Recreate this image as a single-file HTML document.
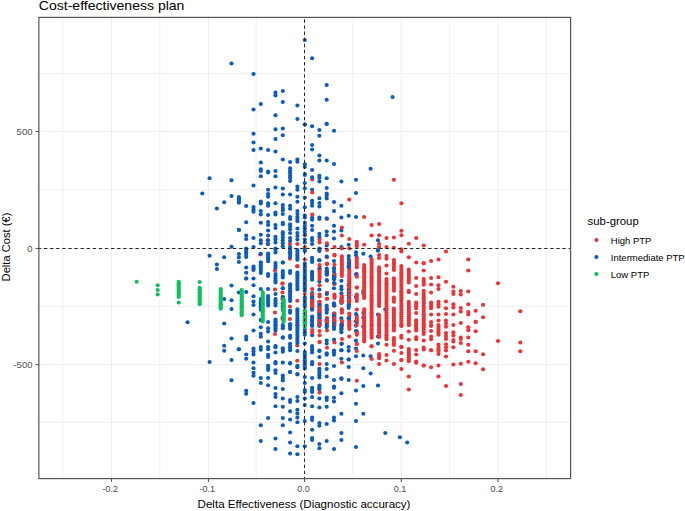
<!DOCTYPE html>
<html><head><meta charset="utf-8"><title>Cost-effectiveness plan</title>
<style>
html,body{margin:0;padding:0;background:#fff;}
body{width:685px;height:511px;overflow:hidden;font-family:"Liberation Sans",Arial,sans-serif;}
svg{display:block}
text{font-family:"Liberation Sans",Arial,sans-serif;}
</style></head><body>
<svg width="685" height="511" viewBox="0 0 685 511">
<rect width="685" height="511" fill="#fff"/>

<g><line x1="63.00" x2="63.00" y1="17.4" y2="478.6" stroke="#ececec" stroke-width="0.85"/>
<line x1="159.80" x2="159.80" y1="17.4" y2="478.6" stroke="#ececec" stroke-width="0.85"/>
<line x1="256.20" x2="256.20" y1="17.4" y2="478.6" stroke="#ececec" stroke-width="0.85"/>
<line x1="352.90" x2="352.90" y1="17.4" y2="478.6" stroke="#ececec" stroke-width="0.85"/>
<line x1="449.70" x2="449.70" y1="17.4" y2="478.6" stroke="#ececec" stroke-width="0.85"/>
<line x1="546.40" x2="546.40" y1="17.4" y2="478.6" stroke="#ececec" stroke-width="0.85"/>
<line x1="111.50" x2="111.50" y1="17.4" y2="478.6" stroke="#ececec" stroke-width="0.95"/>
<line x1="208.50" x2="208.50" y1="17.4" y2="478.6" stroke="#ececec" stroke-width="0.95"/>
<line x1="304.60" x2="304.60" y1="17.4" y2="478.6" stroke="#ececec" stroke-width="0.95"/>
<line x1="401.30" x2="401.30" y1="17.4" y2="478.6" stroke="#ececec" stroke-width="0.95"/>
<line x1="498.00" x2="498.00" y1="17.4" y2="478.6" stroke="#ececec" stroke-width="0.95"/>
<line y1="422.40" y2="422.40" x1="38.85" x2="570.6" stroke="#ececec" stroke-width="0.85"/>
<line y1="306.50" y2="306.50" x1="38.85" x2="570.6" stroke="#ececec" stroke-width="0.85"/>
<line y1="190.00" y2="190.00" x1="38.85" x2="570.6" stroke="#ececec" stroke-width="0.85"/>
<line y1="73.40" y2="73.40" x1="38.85" x2="570.6" stroke="#ececec" stroke-width="0.85"/>
<line y1="364.60" y2="364.60" x1="38.85" x2="570.6" stroke="#ececec" stroke-width="0.95"/>
<line y1="248.50" y2="248.50" x1="38.85" x2="570.6" stroke="#ececec" stroke-width="0.95"/>
<line y1="131.50" y2="131.50" x1="38.85" x2="570.6" stroke="#ececec" stroke-width="0.95"/></g>
<g fill="#0d5cbd">
<ellipse cx="392.6" cy="96.9" rx="2.08" ry="2.0"/>
<ellipse cx="370.6" cy="168.7" rx="2.08" ry="2.0"/>
<ellipse cx="363.3" cy="413.8" rx="2.08" ry="2.0"/>
<ellipse cx="385.3" cy="432.9" rx="2.08" ry="2.0"/>
<ellipse cx="399.9" cy="437.2" rx="2.08" ry="2.0"/>
<ellipse cx="407.2" cy="442.6" rx="2.08" ry="2.0"/>
<ellipse cx="378.0" cy="240.3" rx="2.08" ry="2.0"/>
<ellipse cx="378.0" cy="249.9" rx="2.08" ry="2.0"/>
<ellipse cx="363.3" cy="253.7" rx="2.08" ry="2.0"/>
<ellipse cx="363.3" cy="291.1" rx="2.08" ry="2.0"/>
<ellipse cx="363.3" cy="293.3" rx="2.08" ry="2.0"/>
<ellipse cx="363.3" cy="313.1" rx="2.08" ry="2.0"/>
<ellipse cx="363.3" cy="317.8" rx="2.08" ry="2.0"/>
<ellipse cx="370.6" cy="256.6" rx="2.08" ry="2.0"/>
<ellipse cx="378.0" cy="250.7" rx="2.08" ry="2.0"/>
<ellipse cx="378.0" cy="314.6" rx="2.08" ry="2.0"/>
<ellipse cx="385.3" cy="309.5" rx="2.08" ry="2.0"/>
<ellipse cx="363.3" cy="326.5" rx="2.08" ry="2.0"/>
<ellipse cx="363.3" cy="355.4" rx="2.08" ry="2.0"/>
<ellipse cx="363.3" cy="368.3" rx="2.08" ry="2.0"/>
<ellipse cx="363.3" cy="385.9" rx="2.08" ry="2.0"/>
<ellipse cx="370.6" cy="356.3" rx="2.08" ry="2.0"/>
<ellipse cx="370.6" cy="373.5" rx="2.08" ry="2.0"/>
<ellipse cx="378.0" cy="336.5" rx="2.08" ry="2.0"/>
<ellipse cx="378.0" cy="343.4" rx="2.08" ry="2.0"/>
<ellipse cx="378.0" cy="385.5" rx="2.08" ry="2.0"/>
</g>
<g fill="#ea3538">
<ellipse cx="364.2" cy="216.9" rx="2.08" ry="2.0"/>
<ellipse cx="364.2" cy="244.8" rx="2.08" ry="2.0"/>
<ellipse cx="371.6" cy="224.9" rx="2.08" ry="2.0"/>
<ellipse cx="371.6" cy="235.6" rx="2.08" ry="2.0"/>
<ellipse cx="379.1" cy="223.9" rx="2.08" ry="2.0"/>
<ellipse cx="379.1" cy="235.2" rx="2.08" ry="2.0"/>
<ellipse cx="379.1" cy="243.7" rx="2.08" ry="2.0"/>
<ellipse cx="379.1" cy="247.0" rx="2.08" ry="2.0"/>
<ellipse cx="386.5" cy="238.1" rx="2.08" ry="2.0"/>
<ellipse cx="386.5" cy="247.0" rx="2.08" ry="2.0"/>
<ellipse cx="393.9" cy="179.7" rx="2.08" ry="2.0"/>
<ellipse cx="393.9" cy="237.4" rx="2.08" ry="2.0"/>
<ellipse cx="393.9" cy="247.7" rx="2.08" ry="2.0"/>
<ellipse cx="401.4" cy="203.2" rx="2.08" ry="2.0"/>
<ellipse cx="401.4" cy="230.8" rx="2.08" ry="2.0"/>
<ellipse cx="401.4" cy="235.2" rx="2.08" ry="2.0"/>
<ellipse cx="401.4" cy="249.2" rx="2.08" ry="2.0"/>
<ellipse cx="408.8" cy="243.7" rx="2.08" ry="2.0"/>
<ellipse cx="416.2" cy="238.1" rx="2.08" ry="2.0"/>
<ellipse cx="423.7" cy="245.5" rx="2.08" ry="2.0"/>
<ellipse cx="267.6" cy="240.3" rx="2.08" ry="2.0"/>
<ellipse cx="267.6" cy="244.0" rx="2.08" ry="2.0"/>
<ellipse cx="289.9" cy="244.0" rx="2.08" ry="2.0"/>
<ellipse cx="297.3" cy="244.0" rx="2.08" ry="2.0"/>
<ellipse cx="304.8" cy="235.2" rx="2.08" ry="2.0"/>
<ellipse cx="304.8" cy="247.0" rx="2.08" ry="2.0"/>
<ellipse cx="260.2" cy="254.4" rx="2.08" ry="2.0"/>
<ellipse cx="275.0" cy="270.6" rx="2.08" ry="2.0"/>
<ellipse cx="275.0" cy="289.4" rx="2.08" ry="2.0"/>
<ellipse cx="275.0" cy="312.4" rx="2.08" ry="2.0"/>
<ellipse cx="282.5" cy="283.4" rx="2.08" ry="2.0"/>
<ellipse cx="282.5" cy="283.4" rx="2.08" ry="2.0"/>
<ellipse cx="282.5" cy="292.6" rx="2.08" ry="2.0"/>
<ellipse cx="282.5" cy="299.2" rx="2.08" ry="2.0"/>
<ellipse cx="282.5" cy="319.0" rx="2.08" ry="2.0"/>
<ellipse cx="289.9" cy="252.2" rx="2.08" ry="2.0"/>
<ellipse cx="289.9" cy="258.8" rx="2.08" ry="2.0"/>
<ellipse cx="289.9" cy="306.5" rx="2.08" ry="2.0"/>
<ellipse cx="289.9" cy="319.0" rx="2.08" ry="2.0"/>
<ellipse cx="297.3" cy="266.2" rx="2.08" ry="2.0"/>
<ellipse cx="297.3" cy="266.2" rx="2.08" ry="2.0"/>
<ellipse cx="297.3" cy="300.7" rx="2.08" ry="2.0"/>
<ellipse cx="304.8" cy="259.5" rx="2.08" ry="2.0"/>
<ellipse cx="304.8" cy="294.1" rx="2.08" ry="2.0"/>
<ellipse cx="364.2" cy="265.1" rx="2.08" ry="2.0"/>
<ellipse cx="364.2" cy="267.2" rx="2.08" ry="2.0"/>
<ellipse cx="364.2" cy="269.2" rx="2.08" ry="2.0"/>
<ellipse cx="364.2" cy="271.3" rx="2.08" ry="2.0"/>
<ellipse cx="364.2" cy="273.3" rx="2.08" ry="2.0"/>
<ellipse cx="364.2" cy="275.4" rx="2.08" ry="2.0"/>
<ellipse cx="364.2" cy="277.5" rx="2.08" ry="2.0"/>
<ellipse cx="364.2" cy="279.5" rx="2.08" ry="2.0"/>
<ellipse cx="364.2" cy="281.6" rx="2.08" ry="2.0"/>
<ellipse cx="364.2" cy="283.6" rx="2.08" ry="2.0"/>
<ellipse cx="364.2" cy="285.7" rx="2.08" ry="2.0"/>
<ellipse cx="364.2" cy="287.7" rx="2.08" ry="2.0"/>
<ellipse cx="364.2" cy="289.8" rx="2.08" ry="2.0"/>
<ellipse cx="364.2" cy="291.9" rx="2.08" ry="2.0"/>
<ellipse cx="364.2" cy="293.9" rx="2.08" ry="2.0"/>
<ellipse cx="364.2" cy="296.0" rx="2.08" ry="2.0"/>
<ellipse cx="364.2" cy="298.0" rx="2.08" ry="2.0"/>
<ellipse cx="364.2" cy="309.2" rx="2.08" ry="2.0"/>
<ellipse cx="364.2" cy="311.4" rx="2.08" ry="2.0"/>
<ellipse cx="364.2" cy="313.7" rx="2.08" ry="2.0"/>
<ellipse cx="364.2" cy="315.9" rx="2.08" ry="2.0"/>
<ellipse cx="364.2" cy="318.2" rx="2.08" ry="2.0"/>
<ellipse cx="364.2" cy="320.4" rx="2.08" ry="2.0"/>
<ellipse cx="364.2" cy="322.6" rx="2.08" ry="2.0"/>
<ellipse cx="364.2" cy="324.9" rx="2.08" ry="2.0"/>
<ellipse cx="371.6" cy="259.2" rx="2.08" ry="2.0"/>
<ellipse cx="371.6" cy="261.4" rx="2.08" ry="2.0"/>
<ellipse cx="371.6" cy="263.5" rx="2.08" ry="2.0"/>
<ellipse cx="371.6" cy="265.6" rx="2.08" ry="2.0"/>
<ellipse cx="371.6" cy="267.7" rx="2.08" ry="2.0"/>
<ellipse cx="371.6" cy="269.8" rx="2.08" ry="2.0"/>
<ellipse cx="371.6" cy="271.9" rx="2.08" ry="2.0"/>
<ellipse cx="371.6" cy="274.1" rx="2.08" ry="2.0"/>
<ellipse cx="371.6" cy="276.2" rx="2.08" ry="2.0"/>
<ellipse cx="371.6" cy="278.3" rx="2.08" ry="2.0"/>
<ellipse cx="371.6" cy="280.4" rx="2.08" ry="2.0"/>
<ellipse cx="371.6" cy="282.5" rx="2.08" ry="2.0"/>
<ellipse cx="371.6" cy="284.7" rx="2.08" ry="2.0"/>
<ellipse cx="371.6" cy="286.8" rx="2.08" ry="2.0"/>
<ellipse cx="371.6" cy="288.9" rx="2.08" ry="2.0"/>
<ellipse cx="371.6" cy="291.0" rx="2.08" ry="2.0"/>
<ellipse cx="371.6" cy="293.1" rx="2.08" ry="2.0"/>
<ellipse cx="371.6" cy="295.2" rx="2.08" ry="2.0"/>
<ellipse cx="371.6" cy="297.4" rx="2.08" ry="2.0"/>
<ellipse cx="371.6" cy="299.5" rx="2.08" ry="2.0"/>
<ellipse cx="371.6" cy="301.6" rx="2.08" ry="2.0"/>
<ellipse cx="371.6" cy="303.7" rx="2.08" ry="2.0"/>
<ellipse cx="371.6" cy="305.8" rx="2.08" ry="2.0"/>
<ellipse cx="371.6" cy="307.9" rx="2.08" ry="2.0"/>
<ellipse cx="371.6" cy="310.1" rx="2.08" ry="2.0"/>
<ellipse cx="371.6" cy="312.2" rx="2.08" ry="2.0"/>
<ellipse cx="371.6" cy="314.3" rx="2.08" ry="2.0"/>
<ellipse cx="371.6" cy="316.4" rx="2.08" ry="2.0"/>
<ellipse cx="371.6" cy="318.5" rx="2.08" ry="2.0"/>
<ellipse cx="371.6" cy="320.7" rx="2.08" ry="2.0"/>
<ellipse cx="371.6" cy="322.8" rx="2.08" ry="2.0"/>
<ellipse cx="371.6" cy="324.9" rx="2.08" ry="2.0"/>
<ellipse cx="379.1" cy="255.1" rx="2.08" ry="2.0"/>
<ellipse cx="379.1" cy="258.1" rx="2.08" ry="2.0"/>
<ellipse cx="379.1" cy="267.3" rx="2.08" ry="2.0"/>
<ellipse cx="379.1" cy="269.5" rx="2.08" ry="2.0"/>
<ellipse cx="379.1" cy="271.6" rx="2.08" ry="2.0"/>
<ellipse cx="379.1" cy="273.8" rx="2.08" ry="2.0"/>
<ellipse cx="379.1" cy="275.9" rx="2.08" ry="2.0"/>
<ellipse cx="379.1" cy="278.1" rx="2.08" ry="2.0"/>
<ellipse cx="379.1" cy="280.2" rx="2.08" ry="2.0"/>
<ellipse cx="379.1" cy="282.4" rx="2.08" ry="2.0"/>
<ellipse cx="379.1" cy="284.6" rx="2.08" ry="2.0"/>
<ellipse cx="379.1" cy="286.7" rx="2.08" ry="2.0"/>
<ellipse cx="379.1" cy="288.9" rx="2.08" ry="2.0"/>
<ellipse cx="379.1" cy="291.0" rx="2.08" ry="2.0"/>
<ellipse cx="379.1" cy="293.2" rx="2.08" ry="2.0"/>
<ellipse cx="379.1" cy="295.3" rx="2.08" ry="2.0"/>
<ellipse cx="379.1" cy="297.5" rx="2.08" ry="2.0"/>
<ellipse cx="379.1" cy="299.6" rx="2.08" ry="2.0"/>
<ellipse cx="379.1" cy="301.8" rx="2.08" ry="2.0"/>
<ellipse cx="379.1" cy="303.9" rx="2.08" ry="2.0"/>
<ellipse cx="379.1" cy="306.1" rx="2.08" ry="2.0"/>
<ellipse cx="379.1" cy="315.0" rx="2.08" ry="2.0"/>
<ellipse cx="379.1" cy="317.0" rx="2.08" ry="2.0"/>
<ellipse cx="379.1" cy="319.0" rx="2.08" ry="2.0"/>
<ellipse cx="379.1" cy="321.0" rx="2.08" ry="2.0"/>
<ellipse cx="379.1" cy="322.9" rx="2.08" ry="2.0"/>
<ellipse cx="379.1" cy="324.9" rx="2.08" ry="2.0"/>
<ellipse cx="386.5" cy="255.9" rx="2.08" ry="2.0"/>
<ellipse cx="386.5" cy="258.8" rx="2.08" ry="2.0"/>
<ellipse cx="386.5" cy="265.4" rx="2.08" ry="2.0"/>
<ellipse cx="386.5" cy="273.5" rx="2.08" ry="2.0"/>
<ellipse cx="386.5" cy="279.1" rx="2.08" ry="2.0"/>
<ellipse cx="386.5" cy="281.1" rx="2.08" ry="2.0"/>
<ellipse cx="386.5" cy="283.2" rx="2.08" ry="2.0"/>
<ellipse cx="386.5" cy="285.3" rx="2.08" ry="2.0"/>
<ellipse cx="386.5" cy="287.4" rx="2.08" ry="2.0"/>
<ellipse cx="386.5" cy="289.5" rx="2.08" ry="2.0"/>
<ellipse cx="386.5" cy="291.6" rx="2.08" ry="2.0"/>
<ellipse cx="386.5" cy="293.6" rx="2.08" ry="2.0"/>
<ellipse cx="386.5" cy="295.7" rx="2.08" ry="2.0"/>
<ellipse cx="386.5" cy="297.8" rx="2.08" ry="2.0"/>
<ellipse cx="386.5" cy="299.9" rx="2.08" ry="2.0"/>
<ellipse cx="386.5" cy="302.0" rx="2.08" ry="2.0"/>
<ellipse cx="386.5" cy="304.1" rx="2.08" ry="2.0"/>
<ellipse cx="386.5" cy="306.1" rx="2.08" ry="2.0"/>
<ellipse cx="386.5" cy="308.2" rx="2.08" ry="2.0"/>
<ellipse cx="386.5" cy="310.3" rx="2.08" ry="2.0"/>
<ellipse cx="386.5" cy="312.4" rx="2.08" ry="2.0"/>
<ellipse cx="386.5" cy="314.5" rx="2.08" ry="2.0"/>
<ellipse cx="386.5" cy="316.6" rx="2.08" ry="2.0"/>
<ellipse cx="386.5" cy="318.6" rx="2.08" ry="2.0"/>
<ellipse cx="386.5" cy="320.7" rx="2.08" ry="2.0"/>
<ellipse cx="386.5" cy="322.8" rx="2.08" ry="2.0"/>
<ellipse cx="386.5" cy="324.9" rx="2.08" ry="2.0"/>
<ellipse cx="393.9" cy="260.0" rx="2.08" ry="2.0"/>
<ellipse cx="393.9" cy="262.0" rx="2.08" ry="2.0"/>
<ellipse cx="393.9" cy="264.0" rx="2.08" ry="2.0"/>
<ellipse cx="393.9" cy="266.1" rx="2.08" ry="2.0"/>
<ellipse cx="393.9" cy="268.1" rx="2.08" ry="2.0"/>
<ellipse cx="393.9" cy="270.1" rx="2.08" ry="2.0"/>
<ellipse cx="393.9" cy="278.3" rx="2.08" ry="2.0"/>
<ellipse cx="393.9" cy="280.4" rx="2.08" ry="2.0"/>
<ellipse cx="393.9" cy="282.4" rx="2.08" ry="2.0"/>
<ellipse cx="393.9" cy="284.5" rx="2.08" ry="2.0"/>
<ellipse cx="393.9" cy="286.6" rx="2.08" ry="2.0"/>
<ellipse cx="393.9" cy="288.6" rx="2.08" ry="2.0"/>
<ellipse cx="393.9" cy="290.7" rx="2.08" ry="2.0"/>
<ellipse cx="393.9" cy="297.4" rx="2.08" ry="2.0"/>
<ellipse cx="393.9" cy="299.6" rx="2.08" ry="2.0"/>
<ellipse cx="393.9" cy="301.7" rx="2.08" ry="2.0"/>
<ellipse cx="393.9" cy="308.4" rx="2.08" ry="2.0"/>
<ellipse cx="393.9" cy="310.5" rx="2.08" ry="2.0"/>
<ellipse cx="393.9" cy="312.5" rx="2.08" ry="2.0"/>
<ellipse cx="393.9" cy="314.6" rx="2.08" ry="2.0"/>
<ellipse cx="393.9" cy="316.7" rx="2.08" ry="2.0"/>
<ellipse cx="393.9" cy="318.7" rx="2.08" ry="2.0"/>
<ellipse cx="393.9" cy="320.8" rx="2.08" ry="2.0"/>
<ellipse cx="393.9" cy="322.8" rx="2.08" ry="2.0"/>
<ellipse cx="393.9" cy="324.9" rx="2.08" ry="2.0"/>
<ellipse cx="401.4" cy="251.5" rx="2.08" ry="2.0"/>
<ellipse cx="401.4" cy="265.9" rx="2.08" ry="2.0"/>
<ellipse cx="401.4" cy="268.0" rx="2.08" ry="2.0"/>
<ellipse cx="401.4" cy="270.1" rx="2.08" ry="2.0"/>
<ellipse cx="401.4" cy="272.2" rx="2.08" ry="2.0"/>
<ellipse cx="401.4" cy="274.3" rx="2.08" ry="2.0"/>
<ellipse cx="401.4" cy="276.4" rx="2.08" ry="2.0"/>
<ellipse cx="401.4" cy="278.5" rx="2.08" ry="2.0"/>
<ellipse cx="401.4" cy="280.6" rx="2.08" ry="2.0"/>
<ellipse cx="401.4" cy="282.7" rx="2.08" ry="2.0"/>
<ellipse cx="401.4" cy="284.8" rx="2.08" ry="2.0"/>
<ellipse cx="401.4" cy="286.9" rx="2.08" ry="2.0"/>
<ellipse cx="401.4" cy="289.0" rx="2.08" ry="2.0"/>
<ellipse cx="401.4" cy="291.2" rx="2.08" ry="2.0"/>
<ellipse cx="401.4" cy="293.3" rx="2.08" ry="2.0"/>
<ellipse cx="401.4" cy="295.4" rx="2.08" ry="2.0"/>
<ellipse cx="401.4" cy="297.5" rx="2.08" ry="2.0"/>
<ellipse cx="401.4" cy="299.6" rx="2.08" ry="2.0"/>
<ellipse cx="401.4" cy="301.7" rx="2.08" ry="2.0"/>
<ellipse cx="401.4" cy="303.8" rx="2.08" ry="2.0"/>
<ellipse cx="401.4" cy="305.9" rx="2.08" ry="2.0"/>
<ellipse cx="401.4" cy="308.0" rx="2.08" ry="2.0"/>
<ellipse cx="401.4" cy="310.1" rx="2.08" ry="2.0"/>
<ellipse cx="401.4" cy="312.2" rx="2.08" ry="2.0"/>
<ellipse cx="401.4" cy="314.3" rx="2.08" ry="2.0"/>
<ellipse cx="401.4" cy="316.5" rx="2.08" ry="2.0"/>
<ellipse cx="401.4" cy="318.6" rx="2.08" ry="2.0"/>
<ellipse cx="401.4" cy="320.7" rx="2.08" ry="2.0"/>
<ellipse cx="401.4" cy="322.8" rx="2.08" ry="2.0"/>
<ellipse cx="401.4" cy="324.9" rx="2.08" ry="2.0"/>
<ellipse cx="408.8" cy="257.3" rx="2.08" ry="2.0"/>
<ellipse cx="408.8" cy="269.5" rx="2.08" ry="2.0"/>
<ellipse cx="408.8" cy="271.7" rx="2.08" ry="2.0"/>
<ellipse cx="408.8" cy="273.9" rx="2.08" ry="2.0"/>
<ellipse cx="408.8" cy="276.1" rx="2.08" ry="2.0"/>
<ellipse cx="408.8" cy="278.2" rx="2.08" ry="2.0"/>
<ellipse cx="408.8" cy="280.4" rx="2.08" ry="2.0"/>
<ellipse cx="408.8" cy="282.6" rx="2.08" ry="2.0"/>
<ellipse cx="408.8" cy="290.8" rx="2.08" ry="2.0"/>
<ellipse cx="408.8" cy="292.2" rx="2.08" ry="2.0"/>
<ellipse cx="408.8" cy="301.8" rx="2.08" ry="2.0"/>
<ellipse cx="408.8" cy="303.9" rx="2.08" ry="2.0"/>
<ellipse cx="408.8" cy="306.0" rx="2.08" ry="2.0"/>
<ellipse cx="408.8" cy="308.1" rx="2.08" ry="2.0"/>
<ellipse cx="408.8" cy="310.2" rx="2.08" ry="2.0"/>
<ellipse cx="408.8" cy="312.3" rx="2.08" ry="2.0"/>
<ellipse cx="408.8" cy="314.4" rx="2.08" ry="2.0"/>
<ellipse cx="408.8" cy="316.5" rx="2.08" ry="2.0"/>
<ellipse cx="408.8" cy="318.6" rx="2.08" ry="2.0"/>
<ellipse cx="408.8" cy="320.7" rx="2.08" ry="2.0"/>
<ellipse cx="408.8" cy="322.8" rx="2.08" ry="2.0"/>
<ellipse cx="408.8" cy="324.9" rx="2.08" ry="2.0"/>
<ellipse cx="416.2" cy="262.5" rx="2.08" ry="2.0"/>
<ellipse cx="416.2" cy="277.9" rx="2.08" ry="2.0"/>
<ellipse cx="416.2" cy="286.0" rx="2.08" ry="2.0"/>
<ellipse cx="416.2" cy="294.1" rx="2.08" ry="2.0"/>
<ellipse cx="416.2" cy="302.6" rx="2.08" ry="2.0"/>
<ellipse cx="416.2" cy="304.5" rx="2.08" ry="2.0"/>
<ellipse cx="416.2" cy="306.4" rx="2.08" ry="2.0"/>
<ellipse cx="416.2" cy="308.3" rx="2.08" ry="2.0"/>
<ellipse cx="416.2" cy="313.1" rx="2.08" ry="2.0"/>
<ellipse cx="416.2" cy="320.2" rx="2.08" ry="2.0"/>
<ellipse cx="416.2" cy="322.5" rx="2.08" ry="2.0"/>
<ellipse cx="416.2" cy="324.9" rx="2.08" ry="2.0"/>
<ellipse cx="423.7" cy="263.2" rx="2.08" ry="2.0"/>
<ellipse cx="423.7" cy="263.2" rx="2.08" ry="2.0"/>
<ellipse cx="423.7" cy="270.6" rx="2.08" ry="2.0"/>
<ellipse cx="423.7" cy="279.1" rx="2.08" ry="2.0"/>
<ellipse cx="423.7" cy="281.0" rx="2.08" ry="2.0"/>
<ellipse cx="423.7" cy="282.9" rx="2.08" ry="2.0"/>
<ellipse cx="423.7" cy="284.8" rx="2.08" ry="2.0"/>
<ellipse cx="423.7" cy="290.8" rx="2.08" ry="2.0"/>
<ellipse cx="423.7" cy="292.9" rx="2.08" ry="2.0"/>
<ellipse cx="423.7" cy="295.1" rx="2.08" ry="2.0"/>
<ellipse cx="423.7" cy="297.2" rx="2.08" ry="2.0"/>
<ellipse cx="423.7" cy="299.3" rx="2.08" ry="2.0"/>
<ellipse cx="423.7" cy="301.5" rx="2.08" ry="2.0"/>
<ellipse cx="423.7" cy="303.6" rx="2.08" ry="2.0"/>
<ellipse cx="423.7" cy="305.7" rx="2.08" ry="2.0"/>
<ellipse cx="423.7" cy="307.9" rx="2.08" ry="2.0"/>
<ellipse cx="423.7" cy="310.0" rx="2.08" ry="2.0"/>
<ellipse cx="423.7" cy="312.1" rx="2.08" ry="2.0"/>
<ellipse cx="423.7" cy="314.2" rx="2.08" ry="2.0"/>
<ellipse cx="423.7" cy="316.4" rx="2.08" ry="2.0"/>
<ellipse cx="423.7" cy="318.5" rx="2.08" ry="2.0"/>
<ellipse cx="423.7" cy="320.6" rx="2.08" ry="2.0"/>
<ellipse cx="423.7" cy="322.8" rx="2.08" ry="2.0"/>
<ellipse cx="423.7" cy="324.9" rx="2.08" ry="2.0"/>
<ellipse cx="431.1" cy="261.0" rx="2.08" ry="2.0"/>
<ellipse cx="431.1" cy="277.9" rx="2.08" ry="2.0"/>
<ellipse cx="431.1" cy="284.5" rx="2.08" ry="2.0"/>
<ellipse cx="431.1" cy="292.6" rx="2.08" ry="2.0"/>
<ellipse cx="431.1" cy="302.6" rx="2.08" ry="2.0"/>
<ellipse cx="431.1" cy="304.5" rx="2.08" ry="2.0"/>
<ellipse cx="431.1" cy="306.4" rx="2.08" ry="2.0"/>
<ellipse cx="431.1" cy="308.3" rx="2.08" ry="2.0"/>
<ellipse cx="431.1" cy="314.6" rx="2.08" ry="2.0"/>
<ellipse cx="431.1" cy="322.0" rx="2.08" ry="2.0"/>
<ellipse cx="438.5" cy="259.5" rx="2.08" ry="2.0"/>
<ellipse cx="438.5" cy="277.2" rx="2.08" ry="2.0"/>
<ellipse cx="438.5" cy="285.2" rx="2.08" ry="2.0"/>
<ellipse cx="438.5" cy="288.9" rx="2.08" ry="2.0"/>
<ellipse cx="438.5" cy="301.8" rx="2.08" ry="2.0"/>
<ellipse cx="438.5" cy="304.3" rx="2.08" ry="2.0"/>
<ellipse cx="438.5" cy="306.8" rx="2.08" ry="2.0"/>
<ellipse cx="438.5" cy="314.6" rx="2.08" ry="2.0"/>
<ellipse cx="438.5" cy="320.5" rx="2.08" ry="2.0"/>
<ellipse cx="275.0" cy="334.1" rx="2.08" ry="2.0"/>
<ellipse cx="297.3" cy="345.6" rx="2.08" ry="2.0"/>
<ellipse cx="297.3" cy="360.7" rx="2.08" ry="2.0"/>
<ellipse cx="364.2" cy="325.0" rx="2.08" ry="2.0"/>
<ellipse cx="364.2" cy="327.1" rx="2.08" ry="2.0"/>
<ellipse cx="364.2" cy="329.1" rx="2.08" ry="2.0"/>
<ellipse cx="364.2" cy="331.2" rx="2.08" ry="2.0"/>
<ellipse cx="364.2" cy="333.2" rx="2.08" ry="2.0"/>
<ellipse cx="364.2" cy="335.3" rx="2.08" ry="2.0"/>
<ellipse cx="364.2" cy="337.3" rx="2.08" ry="2.0"/>
<ellipse cx="364.2" cy="339.4" rx="2.08" ry="2.0"/>
<ellipse cx="364.2" cy="341.5" rx="2.08" ry="2.0"/>
<ellipse cx="371.6" cy="325.0" rx="2.08" ry="2.0"/>
<ellipse cx="371.6" cy="327.1" rx="2.08" ry="2.0"/>
<ellipse cx="371.6" cy="329.3" rx="2.08" ry="2.0"/>
<ellipse cx="371.6" cy="331.4" rx="2.08" ry="2.0"/>
<ellipse cx="371.6" cy="333.5" rx="2.08" ry="2.0"/>
<ellipse cx="371.6" cy="335.7" rx="2.08" ry="2.0"/>
<ellipse cx="371.6" cy="337.8" rx="2.08" ry="2.0"/>
<ellipse cx="371.6" cy="346.3" rx="2.08" ry="2.0"/>
<ellipse cx="371.6" cy="346.3" rx="2.08" ry="2.0"/>
<ellipse cx="371.6" cy="359.1" rx="2.08" ry="2.0"/>
<ellipse cx="379.1" cy="325.0" rx="2.08" ry="2.0"/>
<ellipse cx="379.1" cy="327.0" rx="2.08" ry="2.0"/>
<ellipse cx="379.1" cy="329.0" rx="2.08" ry="2.0"/>
<ellipse cx="379.1" cy="331.0" rx="2.08" ry="2.0"/>
<ellipse cx="379.1" cy="333.0" rx="2.08" ry="2.0"/>
<ellipse cx="379.1" cy="335.0" rx="2.08" ry="2.0"/>
<ellipse cx="379.1" cy="337.1" rx="2.08" ry="2.0"/>
<ellipse cx="379.1" cy="354.1" rx="2.08" ry="2.0"/>
<ellipse cx="379.1" cy="356.2" rx="2.08" ry="2.0"/>
<ellipse cx="379.1" cy="358.3" rx="2.08" ry="2.0"/>
<ellipse cx="379.1" cy="363.9" rx="2.08" ry="2.0"/>
<ellipse cx="386.5" cy="325.0" rx="2.08" ry="2.0"/>
<ellipse cx="386.5" cy="327.0" rx="2.08" ry="2.0"/>
<ellipse cx="386.5" cy="329.1" rx="2.08" ry="2.0"/>
<ellipse cx="386.5" cy="331.1" rx="2.08" ry="2.0"/>
<ellipse cx="386.5" cy="333.1" rx="2.08" ry="2.0"/>
<ellipse cx="386.5" cy="335.2" rx="2.08" ry="2.0"/>
<ellipse cx="386.5" cy="337.2" rx="2.08" ry="2.0"/>
<ellipse cx="386.5" cy="339.3" rx="2.08" ry="2.0"/>
<ellipse cx="386.5" cy="344.8" rx="2.08" ry="2.0"/>
<ellipse cx="386.5" cy="355.1" rx="2.08" ry="2.0"/>
<ellipse cx="386.5" cy="360.5" rx="2.08" ry="2.0"/>
<ellipse cx="393.9" cy="325.0" rx="2.08" ry="2.0"/>
<ellipse cx="393.9" cy="326.8" rx="2.08" ry="2.0"/>
<ellipse cx="393.9" cy="328.6" rx="2.08" ry="2.0"/>
<ellipse cx="393.9" cy="330.4" rx="2.08" ry="2.0"/>
<ellipse cx="393.9" cy="337.9" rx="2.08" ry="2.0"/>
<ellipse cx="393.9" cy="340.3" rx="2.08" ry="2.0"/>
<ellipse cx="393.9" cy="342.7" rx="2.08" ry="2.0"/>
<ellipse cx="393.9" cy="345.1" rx="2.08" ry="2.0"/>
<ellipse cx="393.9" cy="350.7" rx="2.08" ry="2.0"/>
<ellipse cx="393.9" cy="363.9" rx="2.08" ry="2.0"/>
<ellipse cx="401.4" cy="325.0" rx="2.08" ry="2.0"/>
<ellipse cx="401.4" cy="326.0" rx="2.08" ry="2.0"/>
<ellipse cx="401.4" cy="335.7" rx="2.08" ry="2.0"/>
<ellipse cx="401.4" cy="337.8" rx="2.08" ry="2.0"/>
<ellipse cx="401.4" cy="346.7" rx="2.08" ry="2.0"/>
<ellipse cx="401.4" cy="347.3" rx="2.08" ry="2.0"/>
<ellipse cx="401.4" cy="352.9" rx="2.08" ry="2.0"/>
<ellipse cx="401.4" cy="359.9" rx="2.08" ry="2.0"/>
<ellipse cx="401.4" cy="359.9" rx="2.08" ry="2.0"/>
<ellipse cx="401.4" cy="369.1" rx="2.08" ry="2.0"/>
<ellipse cx="408.8" cy="325.0" rx="2.08" ry="2.0"/>
<ellipse cx="408.8" cy="331.6" rx="2.08" ry="2.0"/>
<ellipse cx="408.8" cy="339.7" rx="2.08" ry="2.0"/>
<ellipse cx="408.8" cy="348.9" rx="2.08" ry="2.0"/>
<ellipse cx="408.8" cy="351.0" rx="2.08" ry="2.0"/>
<ellipse cx="408.8" cy="353.0" rx="2.08" ry="2.0"/>
<ellipse cx="408.8" cy="355.1" rx="2.08" ry="2.0"/>
<ellipse cx="408.8" cy="357.2" rx="2.08" ry="2.0"/>
<ellipse cx="408.8" cy="359.2" rx="2.08" ry="2.0"/>
<ellipse cx="408.8" cy="361.3" rx="2.08" ry="2.0"/>
<ellipse cx="408.8" cy="376.4" rx="2.08" ry="2.0"/>
<ellipse cx="408.8" cy="389.6" rx="2.08" ry="2.0"/>
<ellipse cx="416.2" cy="325.0" rx="2.08" ry="2.0"/>
<ellipse cx="416.2" cy="326.8" rx="2.08" ry="2.0"/>
<ellipse cx="416.2" cy="328.6" rx="2.08" ry="2.0"/>
<ellipse cx="416.2" cy="330.4" rx="2.08" ry="2.0"/>
<ellipse cx="416.2" cy="337.2" rx="2.08" ry="2.0"/>
<ellipse cx="416.2" cy="339.3" rx="2.08" ry="2.0"/>
<ellipse cx="416.2" cy="350.0" rx="2.08" ry="2.0"/>
<ellipse cx="416.2" cy="354.4" rx="2.08" ry="2.0"/>
<ellipse cx="416.2" cy="361.4" rx="2.08" ry="2.0"/>
<ellipse cx="416.2" cy="362.7" rx="2.08" ry="2.0"/>
<ellipse cx="423.7" cy="325.0" rx="2.08" ry="2.0"/>
<ellipse cx="423.7" cy="327.3" rx="2.08" ry="2.0"/>
<ellipse cx="423.7" cy="329.6" rx="2.08" ry="2.0"/>
<ellipse cx="423.7" cy="331.8" rx="2.08" ry="2.0"/>
<ellipse cx="423.7" cy="334.1" rx="2.08" ry="2.0"/>
<ellipse cx="423.7" cy="340.4" rx="2.08" ry="2.0"/>
<ellipse cx="423.7" cy="347.5" rx="2.08" ry="2.0"/>
<ellipse cx="423.7" cy="349.5" rx="2.08" ry="2.0"/>
<ellipse cx="423.7" cy="365.4" rx="2.08" ry="2.0"/>
<ellipse cx="423.7" cy="365.4" rx="2.08" ry="2.0"/>
<ellipse cx="431.1" cy="325.0" rx="2.08" ry="2.0"/>
<ellipse cx="431.1" cy="326.0" rx="2.08" ry="2.0"/>
<ellipse cx="431.1" cy="330.9" rx="2.08" ry="2.0"/>
<ellipse cx="431.1" cy="336.4" rx="2.08" ry="2.0"/>
<ellipse cx="431.1" cy="339.3" rx="2.08" ry="2.0"/>
<ellipse cx="431.1" cy="350.3" rx="2.08" ry="2.0"/>
<ellipse cx="431.1" cy="350.3" rx="2.08" ry="2.0"/>
<ellipse cx="431.1" cy="367.3" rx="2.08" ry="2.0"/>
<ellipse cx="438.5" cy="325.0" rx="2.08" ry="2.0"/>
<ellipse cx="438.5" cy="327.0" rx="2.08" ry="2.0"/>
<ellipse cx="438.5" cy="328.9" rx="2.08" ry="2.0"/>
<ellipse cx="438.5" cy="330.9" rx="2.08" ry="2.0"/>
<ellipse cx="438.5" cy="332.9" rx="2.08" ry="2.0"/>
<ellipse cx="438.5" cy="334.8" rx="2.08" ry="2.0"/>
<ellipse cx="438.5" cy="344.5" rx="2.08" ry="2.0"/>
<ellipse cx="438.5" cy="346.9" rx="2.08" ry="2.0"/>
<ellipse cx="438.5" cy="349.2" rx="2.08" ry="2.0"/>
<ellipse cx="438.5" cy="351.6" rx="2.08" ry="2.0"/>
<ellipse cx="438.5" cy="353.9" rx="2.08" ry="2.0"/>
<ellipse cx="438.5" cy="365.4" rx="2.08" ry="2.0"/>
<ellipse cx="438.5" cy="376.4" rx="2.08" ry="2.0"/>
<ellipse cx="446.0" cy="251.5" rx="2.08" ry="2.0"/>
<ellipse cx="446.0" cy="281.7" rx="2.08" ry="2.0"/>
<ellipse cx="446.0" cy="301.6" rx="2.08" ry="2.0"/>
<ellipse cx="446.0" cy="308.2" rx="2.08" ry="2.0"/>
<ellipse cx="446.0" cy="314.0" rx="2.08" ry="2.0"/>
<ellipse cx="446.0" cy="320.6" rx="2.08" ry="2.0"/>
<ellipse cx="446.0" cy="323.6" rx="2.08" ry="2.0"/>
<ellipse cx="446.0" cy="326.7" rx="2.08" ry="2.0"/>
<ellipse cx="446.0" cy="332.9" rx="2.08" ry="2.0"/>
<ellipse cx="446.0" cy="336.0" rx="2.08" ry="2.0"/>
<ellipse cx="446.0" cy="339.1" rx="2.08" ry="2.0"/>
<ellipse cx="446.0" cy="344.2" rx="2.08" ry="2.0"/>
<ellipse cx="446.0" cy="347.3" rx="2.08" ry="2.0"/>
<ellipse cx="446.0" cy="350.4" rx="2.08" ry="2.0"/>
<ellipse cx="446.0" cy="356.5" rx="2.08" ry="2.0"/>
<ellipse cx="446.0" cy="385.9" rx="2.08" ry="2.0"/>
<ellipse cx="453.4" cy="286.8" rx="2.08" ry="2.0"/>
<ellipse cx="453.4" cy="291.5" rx="2.08" ry="2.0"/>
<ellipse cx="453.4" cy="294.0" rx="2.08" ry="2.0"/>
<ellipse cx="453.4" cy="304.3" rx="2.08" ry="2.0"/>
<ellipse cx="453.4" cy="307.4" rx="2.08" ry="2.0"/>
<ellipse cx="453.4" cy="314.6" rx="2.08" ry="2.0"/>
<ellipse cx="460.8" cy="290.9" rx="2.08" ry="2.0"/>
<ellipse cx="460.8" cy="294.4" rx="2.08" ry="2.0"/>
<ellipse cx="460.8" cy="308.0" rx="2.08" ry="2.0"/>
<ellipse cx="460.8" cy="311.5" rx="2.08" ry="2.0"/>
<ellipse cx="468.3" cy="259.5" rx="2.08" ry="2.0"/>
<ellipse cx="468.3" cy="270.6" rx="2.08" ry="2.0"/>
<ellipse cx="468.3" cy="291.5" rx="2.08" ry="2.0"/>
<ellipse cx="468.3" cy="304.3" rx="2.08" ry="2.0"/>
<ellipse cx="468.3" cy="312.1" rx="2.08" ry="2.0"/>
<ellipse cx="468.3" cy="314.6" rx="2.08" ry="2.0"/>
<ellipse cx="475.7" cy="310.7" rx="2.08" ry="2.0"/>
<ellipse cx="475.7" cy="321.8" rx="2.08" ry="2.0"/>
<ellipse cx="483.1" cy="304.7" rx="2.08" ry="2.0"/>
<ellipse cx="483.1" cy="317.2" rx="2.08" ry="2.0"/>
<ellipse cx="498.0" cy="283.3" rx="2.08" ry="2.0"/>
<ellipse cx="520.3" cy="311.3" rx="2.08" ry="2.0"/>
<ellipse cx="453.4" cy="325.1" rx="2.08" ry="2.0"/>
<ellipse cx="453.4" cy="332.3" rx="2.08" ry="2.0"/>
<ellipse cx="453.4" cy="335.4" rx="2.08" ry="2.0"/>
<ellipse cx="453.4" cy="340.1" rx="2.08" ry="2.0"/>
<ellipse cx="453.4" cy="341.6" rx="2.08" ry="2.0"/>
<ellipse cx="453.4" cy="347.3" rx="2.08" ry="2.0"/>
<ellipse cx="453.4" cy="364.6" rx="2.08" ry="2.0"/>
<ellipse cx="460.8" cy="323.1" rx="2.08" ry="2.0"/>
<ellipse cx="460.8" cy="337.5" rx="2.08" ry="2.0"/>
<ellipse cx="460.8" cy="338.9" rx="2.08" ry="2.0"/>
<ellipse cx="460.8" cy="343.0" rx="2.08" ry="2.0"/>
<ellipse cx="460.8" cy="363.8" rx="2.08" ry="2.0"/>
<ellipse cx="460.8" cy="384.1" rx="2.08" ry="2.0"/>
<ellipse cx="460.8" cy="395.0" rx="2.08" ry="2.0"/>
<ellipse cx="468.3" cy="327.2" rx="2.08" ry="2.0"/>
<ellipse cx="468.3" cy="330.3" rx="2.08" ry="2.0"/>
<ellipse cx="468.3" cy="337.5" rx="2.08" ry="2.0"/>
<ellipse cx="468.3" cy="344.7" rx="2.08" ry="2.0"/>
<ellipse cx="468.3" cy="351.2" rx="2.08" ry="2.0"/>
<ellipse cx="468.3" cy="361.7" rx="2.08" ry="2.0"/>
<ellipse cx="475.7" cy="322.1" rx="2.08" ry="2.0"/>
<ellipse cx="475.7" cy="331.3" rx="2.08" ry="2.0"/>
<ellipse cx="475.7" cy="351.2" rx="2.08" ry="2.0"/>
<ellipse cx="475.7" cy="363.2" rx="2.08" ry="2.0"/>
<ellipse cx="483.1" cy="354.3" rx="2.08" ry="2.0"/>
<ellipse cx="483.1" cy="369.3" rx="2.08" ry="2.0"/>
<ellipse cx="498.0" cy="341.0" rx="2.08" ry="2.0"/>
<ellipse cx="520.3" cy="342.4" rx="2.08" ry="2.0"/>
<ellipse cx="520.3" cy="351.2" rx="2.08" ry="2.0"/>
</g>
<g fill="#0d5cbd">
<ellipse cx="304.8" cy="39.9" rx="2.08" ry="2.0"/>
<ellipse cx="304.8" cy="124.4" rx="2.08" ry="2.0"/>
<ellipse cx="231.5" cy="63.6" rx="2.08" ry="2.0"/>
<ellipse cx="253.5" cy="73.9" rx="2.08" ry="2.0"/>
<ellipse cx="253.5" cy="109.4" rx="2.08" ry="2.0"/>
<ellipse cx="275.5" cy="92.4" rx="2.08" ry="2.0"/>
<ellipse cx="275.5" cy="95.4" rx="2.08" ry="2.0"/>
<ellipse cx="275.5" cy="115.2" rx="2.08" ry="2.0"/>
<ellipse cx="282.8" cy="90.9" rx="2.08" ry="2.0"/>
<ellipse cx="282.8" cy="102.0" rx="2.08" ry="2.0"/>
<ellipse cx="260.8" cy="104.1" rx="2.08" ry="2.0"/>
<ellipse cx="297.4" cy="105.5" rx="2.08" ry="2.0"/>
<ellipse cx="297.4" cy="118.9" rx="2.08" ry="2.0"/>
<ellipse cx="202.3" cy="193.4" rx="2.08" ry="2.0"/>
<ellipse cx="209.6" cy="178.2" rx="2.08" ry="2.0"/>
<ellipse cx="216.9" cy="208.6" rx="2.08" ry="2.0"/>
<ellipse cx="224.2" cy="202.2" rx="2.08" ry="2.0"/>
<ellipse cx="231.5" cy="180.2" rx="2.08" ry="2.0"/>
<ellipse cx="231.5" cy="195.9" rx="2.08" ry="2.0"/>
<ellipse cx="238.9" cy="196.9" rx="2.08" ry="2.0"/>
<ellipse cx="238.9" cy="199.8" rx="2.08" ry="2.0"/>
<ellipse cx="238.9" cy="202.8" rx="2.08" ry="2.0"/>
<ellipse cx="253.5" cy="133.8" rx="2.08" ry="2.0"/>
<ellipse cx="253.5" cy="142.4" rx="2.08" ry="2.0"/>
<ellipse cx="253.5" cy="150.0" rx="2.08" ry="2.0"/>
<ellipse cx="260.8" cy="148.4" rx="2.08" ry="2.0"/>
<ellipse cx="260.8" cy="162.6" rx="2.08" ry="2.0"/>
<ellipse cx="260.8" cy="169.3" rx="2.08" ry="2.0"/>
<ellipse cx="260.8" cy="171.0" rx="2.08" ry="2.0"/>
<ellipse cx="268.1" cy="150.0" rx="2.08" ry="2.0"/>
<ellipse cx="268.1" cy="171.4" rx="2.08" ry="2.0"/>
<ellipse cx="268.1" cy="172.4" rx="2.08" ry="2.0"/>
<ellipse cx="275.5" cy="129.3" rx="2.08" ry="2.0"/>
<ellipse cx="275.5" cy="139.1" rx="2.08" ry="2.0"/>
<ellipse cx="275.5" cy="151.5" rx="2.08" ry="2.0"/>
<ellipse cx="275.5" cy="171.0" rx="2.08" ry="2.0"/>
<ellipse cx="282.8" cy="128.4" rx="2.08" ry="2.0"/>
<ellipse cx="282.8" cy="135.2" rx="2.08" ry="2.0"/>
<ellipse cx="282.8" cy="159.5" rx="2.08" ry="2.0"/>
<ellipse cx="290.1" cy="161.9" rx="2.08" ry="2.0"/>
<ellipse cx="290.1" cy="168.3" rx="2.08" ry="2.0"/>
<ellipse cx="290.1" cy="171.0" rx="2.08" ry="2.0"/>
<ellipse cx="290.1" cy="173.0" rx="2.08" ry="2.0"/>
<ellipse cx="297.4" cy="159.5" rx="2.08" ry="2.0"/>
<ellipse cx="297.4" cy="161.7" rx="2.08" ry="2.0"/>
<ellipse cx="304.8" cy="124.5" rx="2.08" ry="2.0"/>
<ellipse cx="304.8" cy="164.2" rx="2.08" ry="2.0"/>
<ellipse cx="304.8" cy="166.9" rx="2.08" ry="2.0"/>
<ellipse cx="304.8" cy="173.9" rx="2.08" ry="2.0"/>
<ellipse cx="187.6" cy="322.2" rx="2.08" ry="2.0"/>
<ellipse cx="209.6" cy="255.8" rx="2.08" ry="2.0"/>
<ellipse cx="216.9" cy="264.6" rx="2.08" ry="2.0"/>
<ellipse cx="216.9" cy="268.9" rx="2.08" ry="2.0"/>
<ellipse cx="224.2" cy="257.2" rx="2.08" ry="2.0"/>
<ellipse cx="224.2" cy="299.1" rx="2.08" ry="2.0"/>
<ellipse cx="224.2" cy="323.4" rx="2.08" ry="2.0"/>
<ellipse cx="231.5" cy="246.7" rx="2.08" ry="2.0"/>
<ellipse cx="231.5" cy="285.4" rx="2.08" ry="2.0"/>
<ellipse cx="231.5" cy="300.2" rx="2.08" ry="2.0"/>
<ellipse cx="231.5" cy="309.0" rx="2.08" ry="2.0"/>
<ellipse cx="238.9" cy="229.7" rx="2.08" ry="2.0"/>
<ellipse cx="238.9" cy="253.9" rx="2.08" ry="2.0"/>
<ellipse cx="238.9" cy="257.4" rx="2.08" ry="2.0"/>
<ellipse cx="238.9" cy="262.1" rx="2.08" ry="2.0"/>
<ellipse cx="238.9" cy="292.4" rx="2.08" ry="2.0"/>
<ellipse cx="209.6" cy="362.1" rx="2.08" ry="2.0"/>
<ellipse cx="224.2" cy="345.7" rx="2.08" ry="2.0"/>
<ellipse cx="224.2" cy="350.8" rx="2.08" ry="2.0"/>
<ellipse cx="231.5" cy="338.5" rx="2.08" ry="2.0"/>
<ellipse cx="231.5" cy="360.1" rx="2.08" ry="2.0"/>
<ellipse cx="231.5" cy="380.2" rx="2.08" ry="2.0"/>
<ellipse cx="238.9" cy="349.2" rx="2.08" ry="2.0"/>
<ellipse cx="253.5" cy="403.1" rx="2.08" ry="2.0"/>
<ellipse cx="260.8" cy="425.3" rx="2.08" ry="2.0"/>
<ellipse cx="260.8" cy="440.9" rx="2.08" ry="2.0"/>
<ellipse cx="268.1" cy="417.9" rx="2.08" ry="2.0"/>
<ellipse cx="275.5" cy="406.2" rx="2.08" ry="2.0"/>
<ellipse cx="275.5" cy="438.6" rx="2.08" ry="2.0"/>
<ellipse cx="275.5" cy="448.9" rx="2.08" ry="2.0"/>
<ellipse cx="282.8" cy="406.8" rx="2.08" ry="2.0"/>
<ellipse cx="282.8" cy="417.9" rx="2.08" ry="2.0"/>
<ellipse cx="282.8" cy="425.3" rx="2.08" ry="2.0"/>
<ellipse cx="290.1" cy="402.1" rx="2.08" ry="2.0"/>
<ellipse cx="290.1" cy="411.3" rx="2.08" ry="2.0"/>
<ellipse cx="290.1" cy="419.5" rx="2.08" ry="2.0"/>
<ellipse cx="290.1" cy="432.5" rx="2.08" ry="2.0"/>
<ellipse cx="290.1" cy="442.6" rx="2.08" ry="2.0"/>
<ellipse cx="290.1" cy="453.5" rx="2.08" ry="2.0"/>
<ellipse cx="297.4" cy="401.0" rx="2.08" ry="2.0"/>
<ellipse cx="297.4" cy="409.7" rx="2.08" ry="2.0"/>
<ellipse cx="297.4" cy="413.4" rx="2.08" ry="2.0"/>
<ellipse cx="297.4" cy="417.5" rx="2.08" ry="2.0"/>
<ellipse cx="297.4" cy="422.2" rx="2.08" ry="2.0"/>
<ellipse cx="297.4" cy="446.3" rx="2.08" ry="2.0"/>
<ellipse cx="297.4" cy="454.3" rx="2.08" ry="2.0"/>
<ellipse cx="304.8" cy="405.1" rx="2.08" ry="2.0"/>
<ellipse cx="304.8" cy="421.0" rx="2.08" ry="2.0"/>
<ellipse cx="304.8" cy="446.3" rx="2.08" ry="2.0"/>
<ellipse cx="238.9" cy="198.5" rx="2.08" ry="2.0"/>
<ellipse cx="238.9" cy="201.4" rx="2.08" ry="2.0"/>
<ellipse cx="238.9" cy="230.1" rx="2.08" ry="2.0"/>
<ellipse cx="246.2" cy="206.1" rx="2.08" ry="2.0"/>
<ellipse cx="246.2" cy="222.3" rx="2.08" ry="2.0"/>
<ellipse cx="246.2" cy="235.5" rx="2.08" ry="2.0"/>
<ellipse cx="246.2" cy="238.9" rx="2.08" ry="2.0"/>
<ellipse cx="246.2" cy="248.4" rx="2.08" ry="2.0"/>
<ellipse cx="253.5" cy="185.6" rx="2.08" ry="2.0"/>
<ellipse cx="253.5" cy="207.0" rx="2.08" ry="2.0"/>
<ellipse cx="253.5" cy="209.5" rx="2.08" ry="2.0"/>
<ellipse cx="253.5" cy="211.7" rx="2.08" ry="2.0"/>
<ellipse cx="253.5" cy="238.1" rx="2.08" ry="2.0"/>
<ellipse cx="253.5" cy="247.0" rx="2.08" ry="2.0"/>
<ellipse cx="260.8" cy="176.2" rx="2.08" ry="2.0"/>
<ellipse cx="260.8" cy="201.4" rx="2.08" ry="2.0"/>
<ellipse cx="260.8" cy="203.6" rx="2.08" ry="2.0"/>
<ellipse cx="260.8" cy="211.0" rx="2.08" ry="2.0"/>
<ellipse cx="260.8" cy="214.6" rx="2.08" ry="2.0"/>
<ellipse cx="260.8" cy="222.7" rx="2.08" ry="2.0"/>
<ellipse cx="260.8" cy="234.8" rx="2.08" ry="2.0"/>
<ellipse cx="260.8" cy="240.3" rx="2.08" ry="2.0"/>
<ellipse cx="260.8" cy="243.3" rx="2.08" ry="2.0"/>
<ellipse cx="268.1" cy="189.7" rx="2.08" ry="2.0"/>
<ellipse cx="268.1" cy="194.1" rx="2.08" ry="2.0"/>
<ellipse cx="268.1" cy="196.7" rx="2.08" ry="2.0"/>
<ellipse cx="268.1" cy="203.2" rx="2.08" ry="2.0"/>
<ellipse cx="268.1" cy="205.8" rx="2.08" ry="2.0"/>
<ellipse cx="268.1" cy="214.9" rx="2.08" ry="2.0"/>
<ellipse cx="268.1" cy="222.0" rx="2.08" ry="2.0"/>
<ellipse cx="268.1" cy="224.9" rx="2.08" ry="2.0"/>
<ellipse cx="268.1" cy="230.5" rx="2.08" ry="2.0"/>
<ellipse cx="268.1" cy="235.5" rx="2.08" ry="2.0"/>
<ellipse cx="268.1" cy="240.3" rx="2.08" ry="2.0"/>
<ellipse cx="268.1" cy="244.0" rx="2.08" ry="2.0"/>
<ellipse cx="275.5" cy="176.2" rx="2.08" ry="2.0"/>
<ellipse cx="275.5" cy="187.5" rx="2.08" ry="2.0"/>
<ellipse cx="275.5" cy="203.2" rx="2.08" ry="2.0"/>
<ellipse cx="275.5" cy="212.4" rx="2.08" ry="2.0"/>
<ellipse cx="275.5" cy="214.6" rx="2.08" ry="2.0"/>
<ellipse cx="275.5" cy="224.9" rx="2.08" ry="2.0"/>
<ellipse cx="275.5" cy="227.9" rx="2.08" ry="2.0"/>
<ellipse cx="275.5" cy="236.7" rx="2.08" ry="2.0"/>
<ellipse cx="275.5" cy="239.6" rx="2.08" ry="2.0"/>
<ellipse cx="275.5" cy="242.5" rx="2.08" ry="2.0"/>
<ellipse cx="275.5" cy="248.4" rx="2.08" ry="2.0"/>
<ellipse cx="282.8" cy="188.5" rx="2.08" ry="2.0"/>
<ellipse cx="282.8" cy="194.4" rx="2.08" ry="2.0"/>
<ellipse cx="282.8" cy="205.1" rx="2.08" ry="2.0"/>
<ellipse cx="282.8" cy="208.0" rx="2.08" ry="2.0"/>
<ellipse cx="282.8" cy="210.2" rx="2.08" ry="2.0"/>
<ellipse cx="282.8" cy="213.9" rx="2.08" ry="2.0"/>
<ellipse cx="282.8" cy="222.7" rx="2.08" ry="2.0"/>
<ellipse cx="282.8" cy="224.2" rx="2.08" ry="2.0"/>
<ellipse cx="282.8" cy="232.3" rx="2.08" ry="2.0"/>
<ellipse cx="282.8" cy="234.5" rx="2.08" ry="2.0"/>
<ellipse cx="282.8" cy="237.4" rx="2.08" ry="2.0"/>
<ellipse cx="282.8" cy="240.3" rx="2.08" ry="2.0"/>
<ellipse cx="282.8" cy="243.3" rx="2.08" ry="2.0"/>
<ellipse cx="282.8" cy="246.2" rx="2.08" ry="2.0"/>
<ellipse cx="290.1" cy="175.7" rx="2.08" ry="2.0"/>
<ellipse cx="290.1" cy="177.9" rx="2.08" ry="2.0"/>
<ellipse cx="290.1" cy="180.9" rx="2.08" ry="2.0"/>
<ellipse cx="290.1" cy="194.4" rx="2.08" ry="2.0"/>
<ellipse cx="290.1" cy="205.8" rx="2.08" ry="2.0"/>
<ellipse cx="290.1" cy="208.8" rx="2.08" ry="2.0"/>
<ellipse cx="290.1" cy="216.9" rx="2.08" ry="2.0"/>
<ellipse cx="290.1" cy="219.1" rx="2.08" ry="2.0"/>
<ellipse cx="290.1" cy="224.2" rx="2.08" ry="2.0"/>
<ellipse cx="290.1" cy="226.4" rx="2.08" ry="2.0"/>
<ellipse cx="290.1" cy="229.3" rx="2.08" ry="2.0"/>
<ellipse cx="290.1" cy="233.0" rx="2.08" ry="2.0"/>
<ellipse cx="290.1" cy="238.1" rx="2.08" ry="2.0"/>
<ellipse cx="290.1" cy="241.1" rx="2.08" ry="2.0"/>
<ellipse cx="290.1" cy="247.0" rx="2.08" ry="2.0"/>
<ellipse cx="297.4" cy="186.5" rx="2.08" ry="2.0"/>
<ellipse cx="297.4" cy="189.7" rx="2.08" ry="2.0"/>
<ellipse cx="297.4" cy="196.7" rx="2.08" ry="2.0"/>
<ellipse cx="297.4" cy="201.7" rx="2.08" ry="2.0"/>
<ellipse cx="297.4" cy="211.0" rx="2.08" ry="2.0"/>
<ellipse cx="297.4" cy="213.9" rx="2.08" ry="2.0"/>
<ellipse cx="297.4" cy="216.9" rx="2.08" ry="2.0"/>
<ellipse cx="297.4" cy="219.1" rx="2.08" ry="2.0"/>
<ellipse cx="297.4" cy="221.3" rx="2.08" ry="2.0"/>
<ellipse cx="297.4" cy="228.6" rx="2.08" ry="2.0"/>
<ellipse cx="297.4" cy="233.0" rx="2.08" ry="2.0"/>
<ellipse cx="297.4" cy="235.9" rx="2.08" ry="2.0"/>
<ellipse cx="297.4" cy="239.6" rx="2.08" ry="2.0"/>
<ellipse cx="304.8" cy="175.0" rx="2.08" ry="2.0"/>
<ellipse cx="304.8" cy="183.1" rx="2.08" ry="2.0"/>
<ellipse cx="304.8" cy="188.2" rx="2.08" ry="2.0"/>
<ellipse cx="304.8" cy="197.8" rx="2.08" ry="2.0"/>
<ellipse cx="304.8" cy="207.3" rx="2.08" ry="2.0"/>
<ellipse cx="304.8" cy="215.4" rx="2.08" ry="2.0"/>
<ellipse cx="304.8" cy="217.6" rx="2.08" ry="2.0"/>
<ellipse cx="304.8" cy="222.7" rx="2.08" ry="2.0"/>
<ellipse cx="304.8" cy="225.7" rx="2.08" ry="2.0"/>
<ellipse cx="304.8" cy="228.6" rx="2.08" ry="2.0"/>
<ellipse cx="304.8" cy="231.5" rx="2.08" ry="2.0"/>
<ellipse cx="304.8" cy="234.5" rx="2.08" ry="2.0"/>
<ellipse cx="304.8" cy="239.6" rx="2.08" ry="2.0"/>
<ellipse cx="304.8" cy="242.5" rx="2.08" ry="2.0"/>
<ellipse cx="246.2" cy="250.0" rx="2.08" ry="2.0"/>
<ellipse cx="246.2" cy="252.3" rx="2.08" ry="2.0"/>
<ellipse cx="246.2" cy="254.6" rx="2.08" ry="2.0"/>
<ellipse cx="246.2" cy="256.9" rx="2.08" ry="2.0"/>
<ellipse cx="246.2" cy="267.6" rx="2.08" ry="2.0"/>
<ellipse cx="246.2" cy="272.8" rx="2.08" ry="2.0"/>
<ellipse cx="246.2" cy="278.6" rx="2.08" ry="2.0"/>
<ellipse cx="246.2" cy="278.6" rx="2.08" ry="2.0"/>
<ellipse cx="246.2" cy="291.9" rx="2.08" ry="2.0"/>
<ellipse cx="253.5" cy="266.6" rx="2.08" ry="2.0"/>
<ellipse cx="253.5" cy="268.4" rx="2.08" ry="2.0"/>
<ellipse cx="253.5" cy="270.1" rx="2.08" ry="2.0"/>
<ellipse cx="253.5" cy="278.6" rx="2.08" ry="2.0"/>
<ellipse cx="253.5" cy="285.2" rx="2.08" ry="2.0"/>
<ellipse cx="253.5" cy="296.3" rx="2.08" ry="2.0"/>
<ellipse cx="253.5" cy="301.4" rx="2.08" ry="2.0"/>
<ellipse cx="253.5" cy="305.1" rx="2.08" ry="2.0"/>
<ellipse cx="253.5" cy="314.6" rx="2.08" ry="2.0"/>
<ellipse cx="260.8" cy="253.7" rx="2.08" ry="2.0"/>
<ellipse cx="260.8" cy="262.2" rx="2.08" ry="2.0"/>
<ellipse cx="260.8" cy="264.4" rx="2.08" ry="2.0"/>
<ellipse cx="260.8" cy="266.5" rx="2.08" ry="2.0"/>
<ellipse cx="260.8" cy="268.7" rx="2.08" ry="2.0"/>
<ellipse cx="260.8" cy="270.9" rx="2.08" ry="2.0"/>
<ellipse cx="260.8" cy="273.1" rx="2.08" ry="2.0"/>
<ellipse cx="260.8" cy="288.9" rx="2.08" ry="2.0"/>
<ellipse cx="260.8" cy="298.9" rx="2.08" ry="2.0"/>
<ellipse cx="260.8" cy="301.1" rx="2.08" ry="2.0"/>
<ellipse cx="260.8" cy="303.2" rx="2.08" ry="2.0"/>
<ellipse cx="260.8" cy="305.4" rx="2.08" ry="2.0"/>
<ellipse cx="260.8" cy="307.6" rx="2.08" ry="2.0"/>
<ellipse cx="260.8" cy="309.8" rx="2.08" ry="2.0"/>
<ellipse cx="260.8" cy="320.1" rx="2.08" ry="2.0"/>
<ellipse cx="260.8" cy="320.1" rx="2.08" ry="2.0"/>
<ellipse cx="268.1" cy="253.4" rx="2.08" ry="2.0"/>
<ellipse cx="268.1" cy="255.4" rx="2.08" ry="2.0"/>
<ellipse cx="268.1" cy="257.3" rx="2.08" ry="2.0"/>
<ellipse cx="268.1" cy="259.3" rx="2.08" ry="2.0"/>
<ellipse cx="268.1" cy="261.3" rx="2.08" ry="2.0"/>
<ellipse cx="268.1" cy="273.9" rx="2.08" ry="2.0"/>
<ellipse cx="268.1" cy="276.0" rx="2.08" ry="2.0"/>
<ellipse cx="268.1" cy="288.9" rx="2.08" ry="2.0"/>
<ellipse cx="268.1" cy="296.0" rx="2.08" ry="2.0"/>
<ellipse cx="268.1" cy="298.3" rx="2.08" ry="2.0"/>
<ellipse cx="268.1" cy="300.7" rx="2.08" ry="2.0"/>
<ellipse cx="268.1" cy="303.0" rx="2.08" ry="2.0"/>
<ellipse cx="268.1" cy="305.4" rx="2.08" ry="2.0"/>
<ellipse cx="268.1" cy="322.0" rx="2.08" ry="2.0"/>
<ellipse cx="275.5" cy="250.0" rx="2.08" ry="2.0"/>
<ellipse cx="275.5" cy="252.5" rx="2.08" ry="2.0"/>
<ellipse cx="275.5" cy="262.9" rx="2.08" ry="2.0"/>
<ellipse cx="275.5" cy="265.4" rx="2.08" ry="2.0"/>
<ellipse cx="275.5" cy="267.9" rx="2.08" ry="2.0"/>
<ellipse cx="275.5" cy="273.9" rx="2.08" ry="2.0"/>
<ellipse cx="275.5" cy="276.1" rx="2.08" ry="2.0"/>
<ellipse cx="275.5" cy="278.3" rx="2.08" ry="2.0"/>
<ellipse cx="275.5" cy="280.4" rx="2.08" ry="2.0"/>
<ellipse cx="275.5" cy="282.6" rx="2.08" ry="2.0"/>
<ellipse cx="275.5" cy="294.1" rx="2.08" ry="2.0"/>
<ellipse cx="275.5" cy="298.9" rx="2.08" ry="2.0"/>
<ellipse cx="275.5" cy="301.0" rx="2.08" ry="2.0"/>
<ellipse cx="275.5" cy="303.2" rx="2.08" ry="2.0"/>
<ellipse cx="275.5" cy="305.4" rx="2.08" ry="2.0"/>
<ellipse cx="275.5" cy="319.4" rx="2.08" ry="2.0"/>
<ellipse cx="275.5" cy="321.3" rx="2.08" ry="2.0"/>
<ellipse cx="275.5" cy="323.1" rx="2.08" ry="2.0"/>
<ellipse cx="275.5" cy="324.9" rx="2.08" ry="2.0"/>
<ellipse cx="282.8" cy="262.5" rx="2.08" ry="2.0"/>
<ellipse cx="282.8" cy="262.5" rx="2.08" ry="2.0"/>
<ellipse cx="282.8" cy="271.0" rx="2.08" ry="2.0"/>
<ellipse cx="282.8" cy="273.1" rx="2.08" ry="2.0"/>
<ellipse cx="282.8" cy="275.3" rx="2.08" ry="2.0"/>
<ellipse cx="282.8" cy="277.5" rx="2.08" ry="2.0"/>
<ellipse cx="282.8" cy="288.2" rx="2.08" ry="2.0"/>
<ellipse cx="282.8" cy="288.2" rx="2.08" ry="2.0"/>
<ellipse cx="282.8" cy="297.0" rx="2.08" ry="2.0"/>
<ellipse cx="282.8" cy="297.0" rx="2.08" ry="2.0"/>
<ellipse cx="282.8" cy="303.3" rx="2.08" ry="2.0"/>
<ellipse cx="282.8" cy="305.5" rx="2.08" ry="2.0"/>
<ellipse cx="282.8" cy="307.6" rx="2.08" ry="2.0"/>
<ellipse cx="282.8" cy="309.8" rx="2.08" ry="2.0"/>
<ellipse cx="282.8" cy="317.5" rx="2.08" ry="2.0"/>
<ellipse cx="290.1" cy="250.0" rx="2.08" ry="2.0"/>
<ellipse cx="290.1" cy="252.3" rx="2.08" ry="2.0"/>
<ellipse cx="290.1" cy="254.6" rx="2.08" ry="2.0"/>
<ellipse cx="290.1" cy="256.9" rx="2.08" ry="2.0"/>
<ellipse cx="290.1" cy="271.0" rx="2.08" ry="2.0"/>
<ellipse cx="290.1" cy="273.1" rx="2.08" ry="2.0"/>
<ellipse cx="290.1" cy="284.2" rx="2.08" ry="2.0"/>
<ellipse cx="290.1" cy="286.3" rx="2.08" ry="2.0"/>
<ellipse cx="290.1" cy="288.4" rx="2.08" ry="2.0"/>
<ellipse cx="290.1" cy="290.5" rx="2.08" ry="2.0"/>
<ellipse cx="290.1" cy="292.6" rx="2.08" ry="2.0"/>
<ellipse cx="290.1" cy="294.7" rx="2.08" ry="2.0"/>
<ellipse cx="290.1" cy="296.8" rx="2.08" ry="2.0"/>
<ellipse cx="290.1" cy="298.9" rx="2.08" ry="2.0"/>
<ellipse cx="290.1" cy="301.0" rx="2.08" ry="2.0"/>
<ellipse cx="290.1" cy="310.6" rx="2.08" ry="2.0"/>
<ellipse cx="290.1" cy="312.7" rx="2.08" ry="2.0"/>
<ellipse cx="290.1" cy="323.9" rx="2.08" ry="2.0"/>
<ellipse cx="290.1" cy="324.9" rx="2.08" ry="2.0"/>
<ellipse cx="297.4" cy="250.0" rx="2.08" ry="2.0"/>
<ellipse cx="297.4" cy="252.0" rx="2.08" ry="2.0"/>
<ellipse cx="297.4" cy="253.9" rx="2.08" ry="2.0"/>
<ellipse cx="297.4" cy="255.9" rx="2.08" ry="2.0"/>
<ellipse cx="297.4" cy="257.9" rx="2.08" ry="2.0"/>
<ellipse cx="297.4" cy="259.8" rx="2.08" ry="2.0"/>
<ellipse cx="297.4" cy="272.5" rx="2.08" ry="2.0"/>
<ellipse cx="297.4" cy="274.6" rx="2.08" ry="2.0"/>
<ellipse cx="297.4" cy="276.6" rx="2.08" ry="2.0"/>
<ellipse cx="297.4" cy="278.7" rx="2.08" ry="2.0"/>
<ellipse cx="297.4" cy="280.8" rx="2.08" ry="2.0"/>
<ellipse cx="297.4" cy="282.9" rx="2.08" ry="2.0"/>
<ellipse cx="297.4" cy="285.0" rx="2.08" ry="2.0"/>
<ellipse cx="297.4" cy="287.1" rx="2.08" ry="2.0"/>
<ellipse cx="297.4" cy="289.2" rx="2.08" ry="2.0"/>
<ellipse cx="297.4" cy="309.2" rx="2.08" ry="2.0"/>
<ellipse cx="297.4" cy="311.4" rx="2.08" ry="2.0"/>
<ellipse cx="297.4" cy="313.7" rx="2.08" ry="2.0"/>
<ellipse cx="297.4" cy="315.9" rx="2.08" ry="2.0"/>
<ellipse cx="297.4" cy="318.2" rx="2.08" ry="2.0"/>
<ellipse cx="297.4" cy="320.4" rx="2.08" ry="2.0"/>
<ellipse cx="297.4" cy="322.6" rx="2.08" ry="2.0"/>
<ellipse cx="297.4" cy="324.9" rx="2.08" ry="2.0"/>
<ellipse cx="304.8" cy="250.0" rx="2.08" ry="2.0"/>
<ellipse cx="304.8" cy="251.0" rx="2.08" ry="2.0"/>
<ellipse cx="304.8" cy="263.6" rx="2.08" ry="2.0"/>
<ellipse cx="304.8" cy="265.7" rx="2.08" ry="2.0"/>
<ellipse cx="304.8" cy="267.8" rx="2.08" ry="2.0"/>
<ellipse cx="304.8" cy="269.9" rx="2.08" ry="2.0"/>
<ellipse cx="304.8" cy="272.0" rx="2.08" ry="2.0"/>
<ellipse cx="304.8" cy="274.0" rx="2.08" ry="2.0"/>
<ellipse cx="304.8" cy="276.1" rx="2.08" ry="2.0"/>
<ellipse cx="304.8" cy="278.2" rx="2.08" ry="2.0"/>
<ellipse cx="304.8" cy="280.3" rx="2.08" ry="2.0"/>
<ellipse cx="304.8" cy="282.4" rx="2.08" ry="2.0"/>
<ellipse cx="304.8" cy="284.4" rx="2.08" ry="2.0"/>
<ellipse cx="304.8" cy="286.5" rx="2.08" ry="2.0"/>
<ellipse cx="304.8" cy="288.6" rx="2.08" ry="2.0"/>
<ellipse cx="304.8" cy="290.7" rx="2.08" ry="2.0"/>
<ellipse cx="304.8" cy="297.4" rx="2.08" ry="2.0"/>
<ellipse cx="304.8" cy="299.8" rx="2.08" ry="2.0"/>
<ellipse cx="304.8" cy="302.1" rx="2.08" ry="2.0"/>
<ellipse cx="304.8" cy="304.5" rx="2.08" ry="2.0"/>
<ellipse cx="304.8" cy="306.8" rx="2.08" ry="2.0"/>
<ellipse cx="304.8" cy="313.6" rx="2.08" ry="2.0"/>
<ellipse cx="304.8" cy="315.8" rx="2.08" ry="2.0"/>
<ellipse cx="304.8" cy="318.1" rx="2.08" ry="2.0"/>
<ellipse cx="304.8" cy="320.4" rx="2.08" ry="2.0"/>
<ellipse cx="304.8" cy="322.6" rx="2.08" ry="2.0"/>
<ellipse cx="304.8" cy="324.9" rx="2.08" ry="2.0"/>
<ellipse cx="238.9" cy="349.2" rx="2.08" ry="2.0"/>
<ellipse cx="246.2" cy="336.5" rx="2.08" ry="2.0"/>
<ellipse cx="246.2" cy="339.4" rx="2.08" ry="2.0"/>
<ellipse cx="246.2" cy="354.4" rx="2.08" ry="2.0"/>
<ellipse cx="246.2" cy="358.8" rx="2.08" ry="2.0"/>
<ellipse cx="246.2" cy="390.8" rx="2.08" ry="2.0"/>
<ellipse cx="246.2" cy="393.7" rx="2.08" ry="2.0"/>
<ellipse cx="253.5" cy="330.6" rx="2.08" ry="2.0"/>
<ellipse cx="253.5" cy="348.5" rx="2.08" ry="2.0"/>
<ellipse cx="253.5" cy="351.4" rx="2.08" ry="2.0"/>
<ellipse cx="253.5" cy="354.4" rx="2.08" ry="2.0"/>
<ellipse cx="253.5" cy="362.4" rx="2.08" ry="2.0"/>
<ellipse cx="253.5" cy="368.3" rx="2.08" ry="2.0"/>
<ellipse cx="253.5" cy="372.7" rx="2.08" ry="2.0"/>
<ellipse cx="253.5" cy="375.7" rx="2.08" ry="2.0"/>
<ellipse cx="260.8" cy="327.2" rx="2.08" ry="2.0"/>
<ellipse cx="260.8" cy="333.8" rx="2.08" ry="2.0"/>
<ellipse cx="260.8" cy="336.7" rx="2.08" ry="2.0"/>
<ellipse cx="260.8" cy="347.0" rx="2.08" ry="2.0"/>
<ellipse cx="260.8" cy="349.7" rx="2.08" ry="2.0"/>
<ellipse cx="260.8" cy="377.9" rx="2.08" ry="2.0"/>
<ellipse cx="260.8" cy="383.0" rx="2.08" ry="2.0"/>
<ellipse cx="268.1" cy="328.2" rx="2.08" ry="2.0"/>
<ellipse cx="268.1" cy="331.6" rx="2.08" ry="2.0"/>
<ellipse cx="268.1" cy="341.4" rx="2.08" ry="2.0"/>
<ellipse cx="268.1" cy="347.0" rx="2.08" ry="2.0"/>
<ellipse cx="268.1" cy="349.2" rx="2.08" ry="2.0"/>
<ellipse cx="268.1" cy="354.8" rx="2.08" ry="2.0"/>
<ellipse cx="268.1" cy="356.9" rx="2.08" ry="2.0"/>
<ellipse cx="268.1" cy="365.8" rx="2.08" ry="2.0"/>
<ellipse cx="268.1" cy="368.0" rx="2.08" ry="2.0"/>
<ellipse cx="268.1" cy="370.1" rx="2.08" ry="2.0"/>
<ellipse cx="268.1" cy="377.9" rx="2.08" ry="2.0"/>
<ellipse cx="268.1" cy="385.2" rx="2.08" ry="2.0"/>
<ellipse cx="275.5" cy="325.0" rx="2.08" ry="2.0"/>
<ellipse cx="275.5" cy="326.8" rx="2.08" ry="2.0"/>
<ellipse cx="275.5" cy="328.6" rx="2.08" ry="2.0"/>
<ellipse cx="275.5" cy="330.4" rx="2.08" ry="2.0"/>
<ellipse cx="275.5" cy="346.0" rx="2.08" ry="2.0"/>
<ellipse cx="275.5" cy="347.3" rx="2.08" ry="2.0"/>
<ellipse cx="275.5" cy="352.6" rx="2.08" ry="2.0"/>
<ellipse cx="275.5" cy="362.1" rx="2.08" ry="2.0"/>
<ellipse cx="275.5" cy="363.5" rx="2.08" ry="2.0"/>
<ellipse cx="275.5" cy="370.2" rx="2.08" ry="2.0"/>
<ellipse cx="275.5" cy="373.0" rx="2.08" ry="2.0"/>
<ellipse cx="275.5" cy="388.1" rx="2.08" ry="2.0"/>
<ellipse cx="275.5" cy="394.0" rx="2.08" ry="2.0"/>
<ellipse cx="275.5" cy="397.0" rx="2.08" ry="2.0"/>
<ellipse cx="282.8" cy="325.0" rx="2.08" ry="2.0"/>
<ellipse cx="282.8" cy="326.6" rx="2.08" ry="2.0"/>
<ellipse cx="282.8" cy="328.2" rx="2.08" ry="2.0"/>
<ellipse cx="282.8" cy="337.2" rx="2.08" ry="2.0"/>
<ellipse cx="282.8" cy="337.8" rx="2.08" ry="2.0"/>
<ellipse cx="282.8" cy="348.2" rx="2.08" ry="2.0"/>
<ellipse cx="282.8" cy="350.0" rx="2.08" ry="2.0"/>
<ellipse cx="282.8" cy="351.7" rx="2.08" ry="2.0"/>
<ellipse cx="282.8" cy="362.4" rx="2.08" ry="2.0"/>
<ellipse cx="282.8" cy="375.4" rx="2.08" ry="2.0"/>
<ellipse cx="282.8" cy="377.9" rx="2.08" ry="2.0"/>
<ellipse cx="282.8" cy="380.4" rx="2.08" ry="2.0"/>
<ellipse cx="282.8" cy="388.9" rx="2.08" ry="2.0"/>
<ellipse cx="282.8" cy="398.4" rx="2.08" ry="2.0"/>
<ellipse cx="290.1" cy="325.0" rx="2.08" ry="2.0"/>
<ellipse cx="290.1" cy="327.0" rx="2.08" ry="2.0"/>
<ellipse cx="290.1" cy="329.0" rx="2.08" ry="2.0"/>
<ellipse cx="290.1" cy="335.7" rx="2.08" ry="2.0"/>
<ellipse cx="290.1" cy="337.8" rx="2.08" ry="2.0"/>
<ellipse cx="290.1" cy="343.8" rx="2.08" ry="2.0"/>
<ellipse cx="290.1" cy="345.9" rx="2.08" ry="2.0"/>
<ellipse cx="290.1" cy="348.1" rx="2.08" ry="2.0"/>
<ellipse cx="290.1" cy="350.3" rx="2.08" ry="2.0"/>
<ellipse cx="290.1" cy="362.9" rx="2.08" ry="2.0"/>
<ellipse cx="290.1" cy="363.5" rx="2.08" ry="2.0"/>
<ellipse cx="290.1" cy="372.0" rx="2.08" ry="2.0"/>
<ellipse cx="290.1" cy="372.0" rx="2.08" ry="2.0"/>
<ellipse cx="290.1" cy="399.9" rx="2.08" ry="2.0"/>
<ellipse cx="297.4" cy="325.0" rx="2.08" ry="2.0"/>
<ellipse cx="297.4" cy="327.0" rx="2.08" ry="2.0"/>
<ellipse cx="297.4" cy="329.0" rx="2.08" ry="2.0"/>
<ellipse cx="297.4" cy="331.0" rx="2.08" ry="2.0"/>
<ellipse cx="297.4" cy="333.0" rx="2.08" ry="2.0"/>
<ellipse cx="297.4" cy="335.0" rx="2.08" ry="2.0"/>
<ellipse cx="297.4" cy="336.9" rx="2.08" ry="2.0"/>
<ellipse cx="297.4" cy="338.9" rx="2.08" ry="2.0"/>
<ellipse cx="297.4" cy="340.9" rx="2.08" ry="2.0"/>
<ellipse cx="297.4" cy="342.9" rx="2.08" ry="2.0"/>
<ellipse cx="297.4" cy="351.1" rx="2.08" ry="2.0"/>
<ellipse cx="297.4" cy="365.8" rx="2.08" ry="2.0"/>
<ellipse cx="297.4" cy="367.2" rx="2.08" ry="2.0"/>
<ellipse cx="297.4" cy="373.9" rx="2.08" ry="2.0"/>
<ellipse cx="297.4" cy="374.5" rx="2.08" ry="2.0"/>
<ellipse cx="297.4" cy="397.0" rx="2.08" ry="2.0"/>
<ellipse cx="304.8" cy="329.8" rx="2.08" ry="2.0"/>
<ellipse cx="304.8" cy="332.3" rx="2.08" ry="2.0"/>
<ellipse cx="304.8" cy="334.8" rx="2.08" ry="2.0"/>
<ellipse cx="304.8" cy="343.4" rx="2.08" ry="2.0"/>
<ellipse cx="304.8" cy="351.9" rx="2.08" ry="2.0"/>
<ellipse cx="304.8" cy="354.0" rx="2.08" ry="2.0"/>
<ellipse cx="304.8" cy="356.1" rx="2.08" ry="2.0"/>
<ellipse cx="304.8" cy="358.1" rx="2.08" ry="2.0"/>
<ellipse cx="304.8" cy="360.2" rx="2.08" ry="2.0"/>
<ellipse cx="304.8" cy="362.3" rx="2.08" ry="2.0"/>
<ellipse cx="304.8" cy="364.4" rx="2.08" ry="2.0"/>
<ellipse cx="304.8" cy="366.5" rx="2.08" ry="2.0"/>
<ellipse cx="304.8" cy="368.6" rx="2.08" ry="2.0"/>
<ellipse cx="304.8" cy="377.1" rx="2.08" ry="2.0"/>
<ellipse cx="304.8" cy="383.0" rx="2.08" ry="2.0"/>
<ellipse cx="304.8" cy="390.0" rx="2.08" ry="2.0"/>
<ellipse cx="304.8" cy="392.1" rx="2.08" ry="2.0"/>
<ellipse cx="304.8" cy="398.4" rx="2.08" ry="2.0"/>
</g>
<g fill="#ea3538">
<ellipse cx="319.6" cy="275.0" rx="2.08" ry="2.0"/>
<ellipse cx="334.5" cy="247.0" rx="2.08" ry="2.0"/>
</g>
<g fill="#0d5cbd">
<ellipse cx="348.7" cy="350.7" rx="2.08" ry="2.0"/>
<ellipse cx="319.4" cy="312.3" rx="2.08" ry="2.0"/>
<ellipse cx="312.1" cy="293.0" rx="2.08" ry="2.0"/>
<ellipse cx="326.7" cy="397.4" rx="2.08" ry="2.0"/>
<ellipse cx="334.0" cy="164.0" rx="2.08" ry="2.0"/>
</g>
<g fill="#ea3538">
<ellipse cx="334.5" cy="296.3" rx="2.08" ry="2.0"/>
</g>
<g fill="#0d5cbd">
<ellipse cx="319.4" cy="160.5" rx="2.08" ry="2.0"/>
<ellipse cx="319.4" cy="389.2" rx="2.08" ry="2.0"/>
<ellipse cx="312.1" cy="303.5" rx="2.08" ry="2.0"/>
</g>
<g fill="#ea3538">
<ellipse cx="341.9" cy="265.1" rx="2.08" ry="2.0"/>
<ellipse cx="341.9" cy="339.0" rx="2.08" ry="2.0"/>
<ellipse cx="327.0" cy="318.0" rx="2.08" ry="2.0"/>
<ellipse cx="349.3" cy="275.1" rx="2.08" ry="2.0"/>
</g>
<g fill="#0d5cbd">
<ellipse cx="356.0" cy="348.5" rx="2.08" ry="2.0"/>
</g>
<g fill="#ea3538">
<ellipse cx="356.8" cy="334.8" rx="2.08" ry="2.0"/>
</g>
<g fill="#0d5cbd">
<ellipse cx="326.7" cy="424.1" rx="2.08" ry="2.0"/>
</g>
<g fill="#ea3538">
<ellipse cx="334.5" cy="277.5" rx="2.08" ry="2.0"/>
<ellipse cx="356.8" cy="309.5" rx="2.08" ry="2.0"/>
</g>
<g fill="#0d5cbd">
<ellipse cx="348.7" cy="359.5" rx="2.08" ry="2.0"/>
</g>
<g fill="#ea3538">
<ellipse cx="356.8" cy="380.8" rx="2.08" ry="2.0"/>
</g>
<g fill="#0d5cbd">
<ellipse cx="312.1" cy="149.4" rx="2.08" ry="2.0"/>
</g>
<g fill="#ea3538">
<ellipse cx="356.8" cy="287.4" rx="2.08" ry="2.0"/>
<ellipse cx="349.3" cy="318.1" rx="2.08" ry="2.0"/>
</g>
<g fill="#0d5cbd">
<ellipse cx="341.4" cy="230.5" rx="2.08" ry="2.0"/>
<ellipse cx="334.0" cy="380.1" rx="2.08" ry="2.0"/>
<ellipse cx="319.4" cy="310.2" rx="2.08" ry="2.0"/>
</g>
<g fill="#ea3538">
<ellipse cx="356.8" cy="301.0" rx="2.08" ry="2.0"/>
</g>
<g fill="#0d5cbd">
<ellipse cx="312.1" cy="58.2" rx="2.08" ry="2.0"/>
<ellipse cx="319.4" cy="377.4" rx="2.08" ry="2.0"/>
<ellipse cx="326.7" cy="305.5" rx="2.08" ry="2.0"/>
<ellipse cx="312.1" cy="205.8" rx="2.08" ry="2.0"/>
<ellipse cx="326.7" cy="340.4" rx="2.08" ry="2.0"/>
<ellipse cx="319.4" cy="198.2" rx="2.08" ry="2.0"/>
<ellipse cx="326.7" cy="187.9" rx="2.08" ry="2.0"/>
<ellipse cx="312.1" cy="144.9" rx="2.08" ry="2.0"/>
<ellipse cx="319.4" cy="250.0" rx="2.08" ry="2.0"/>
<ellipse cx="334.0" cy="325.0" rx="2.08" ry="2.0"/>
<ellipse cx="334.0" cy="261.0" rx="2.08" ry="2.0"/>
<ellipse cx="334.0" cy="339.7" rx="2.08" ry="2.0"/>
</g>
<g fill="#ea3538">
<ellipse cx="319.6" cy="239.6" rx="2.08" ry="2.0"/>
</g>
<g fill="#0d5cbd">
<ellipse cx="356.0" cy="390.6" rx="2.08" ry="2.0"/>
</g>
<g fill="#ea3538">
<ellipse cx="319.6" cy="341.9" rx="2.08" ry="2.0"/>
</g>
<g fill="#0d5cbd">
<ellipse cx="312.1" cy="406.2" rx="2.08" ry="2.0"/>
<ellipse cx="348.7" cy="295.7" rx="2.08" ry="2.0"/>
<ellipse cx="312.1" cy="364.2" rx="2.08" ry="2.0"/>
<ellipse cx="334.0" cy="324.9" rx="2.08" ry="2.0"/>
<ellipse cx="326.7" cy="354.7" rx="2.08" ry="2.0"/>
<ellipse cx="319.4" cy="175.7" rx="2.08" ry="2.0"/>
<ellipse cx="312.1" cy="335.3" rx="2.08" ry="2.0"/>
<ellipse cx="326.7" cy="319.4" rx="2.08" ry="2.0"/>
</g>
<g fill="#ea3538">
<ellipse cx="356.8" cy="273.9" rx="2.08" ry="2.0"/>
</g>
<g fill="#0d5cbd">
<ellipse cx="312.1" cy="238.1" rx="2.08" ry="2.0"/>
<ellipse cx="334.0" cy="329.0" rx="2.08" ry="2.0"/>
<ellipse cx="312.1" cy="440.1" rx="2.08" ry="2.0"/>
<ellipse cx="356.0" cy="274.2" rx="2.08" ry="2.0"/>
<ellipse cx="341.4" cy="329.4" rx="2.08" ry="2.0"/>
</g>
<g fill="#ea3538">
<ellipse cx="319.6" cy="335.3" rx="2.08" ry="2.0"/>
<ellipse cx="327.0" cy="250.0" rx="2.08" ry="2.0"/>
<ellipse cx="341.9" cy="258.5" rx="2.08" ry="2.0"/>
<ellipse cx="334.5" cy="298.0" rx="2.08" ry="2.0"/>
</g>
<g fill="#0d5cbd">
<ellipse cx="356.0" cy="356.3" rx="2.08" ry="2.0"/>
<ellipse cx="356.0" cy="297.0" rx="2.08" ry="2.0"/>
<ellipse cx="326.7" cy="363.9" rx="2.08" ry="2.0"/>
</g>
<g fill="#ea3538">
<ellipse cx="341.9" cy="235.5" rx="2.08" ry="2.0"/>
<ellipse cx="327.0" cy="347.8" rx="2.08" ry="2.0"/>
</g>
<g fill="#0d5cbd">
<ellipse cx="341.4" cy="358.8" rx="2.08" ry="2.0"/>
<ellipse cx="326.7" cy="440.9" rx="2.08" ry="2.0"/>
</g>
<g fill="#ea3538">
<ellipse cx="334.5" cy="275.7" rx="2.08" ry="2.0"/>
<ellipse cx="312.2" cy="308.3" rx="2.08" ry="2.0"/>
</g>
<g fill="#0d5cbd">
<ellipse cx="312.1" cy="307.7" rx="2.08" ry="2.0"/>
</g>
<g fill="#ea3538">
<ellipse cx="319.6" cy="322.8" rx="2.08" ry="2.0"/>
</g>
<g fill="#0d5cbd">
<ellipse cx="334.0" cy="350.4" rx="2.08" ry="2.0"/>
</g>
<g fill="#ea3538">
<ellipse cx="319.6" cy="242.5" rx="2.08" ry="2.0"/>
<ellipse cx="341.9" cy="322.9" rx="2.08" ry="2.0"/>
</g>
<g fill="#0d5cbd">
<ellipse cx="356.0" cy="252.2" rx="2.08" ry="2.0"/>
</g>
<g fill="#ea3538">
<ellipse cx="356.8" cy="241.8" rx="2.08" ry="2.0"/>
</g>
<g fill="#0d5cbd">
<ellipse cx="312.1" cy="271.7" rx="2.08" ry="2.0"/>
<ellipse cx="341.4" cy="301.4" rx="2.08" ry="2.0"/>
</g>
<g fill="#ea3538">
<ellipse cx="349.3" cy="320.4" rx="2.08" ry="2.0"/>
</g>
<g fill="#0d5cbd">
<ellipse cx="312.1" cy="126.2" rx="2.08" ry="2.0"/>
<ellipse cx="341.4" cy="298.0" rx="2.08" ry="2.0"/>
</g>
<g fill="#ea3538">
<ellipse cx="319.6" cy="363.9" rx="2.08" ry="2.0"/>
<ellipse cx="356.8" cy="267.2" rx="2.08" ry="2.0"/>
</g>
<g fill="#0d5cbd">
<ellipse cx="334.0" cy="313.6" rx="2.08" ry="2.0"/>
</g>
<g fill="#ea3538">
<ellipse cx="334.5" cy="322.6" rx="2.08" ry="2.0"/>
<ellipse cx="312.2" cy="332.3" rx="2.08" ry="2.0"/>
</g>
<g fill="#0d5cbd">
<ellipse cx="326.7" cy="195.6" rx="2.08" ry="2.0"/>
</g>
<g fill="#ea3538">
<ellipse cx="356.8" cy="294.5" rx="2.08" ry="2.0"/>
<ellipse cx="319.6" cy="306.0" rx="2.08" ry="2.0"/>
</g>
<g fill="#0d5cbd">
<ellipse cx="341.4" cy="247.0" rx="2.08" ry="2.0"/>
</g>
<g fill="#ea3538">
<ellipse cx="334.5" cy="284.1" rx="2.08" ry="2.0"/>
<ellipse cx="356.8" cy="262.5" rx="2.08" ry="2.0"/>
</g>
<g fill="#0d5cbd">
<ellipse cx="319.4" cy="370.9" rx="2.08" ry="2.0"/>
<ellipse cx="319.4" cy="129.9" rx="2.08" ry="2.0"/>
<ellipse cx="341.4" cy="432.9" rx="2.08" ry="2.0"/>
<ellipse cx="356.0" cy="216.9" rx="2.08" ry="2.0"/>
</g>
<g fill="#ea3538">
<ellipse cx="349.3" cy="303.9" rx="2.08" ry="2.0"/>
</g>
<g fill="#0d5cbd">
<ellipse cx="334.0" cy="366.1" rx="2.08" ry="2.0"/>
</g>
<g fill="#ea3538">
<ellipse cx="312.2" cy="179.4" rx="2.08" ry="2.0"/>
<ellipse cx="319.6" cy="310.2" rx="2.08" ry="2.0"/>
</g>
<g fill="#0d5cbd">
<ellipse cx="334.0" cy="320.4" rx="2.08" ry="2.0"/>
<ellipse cx="356.0" cy="446.9" rx="2.08" ry="2.0"/>
<ellipse cx="312.1" cy="273.7" rx="2.08" ry="2.0"/>
<ellipse cx="312.1" cy="301.4" rx="2.08" ry="2.0"/>
</g>
<g fill="#ea3538">
<ellipse cx="341.9" cy="260.7" rx="2.08" ry="2.0"/>
</g>
<g fill="#0d5cbd">
<ellipse cx="326.7" cy="235.2" rx="2.08" ry="2.0"/>
</g>
<g fill="#ea3538">
<ellipse cx="334.5" cy="254.8" rx="2.08" ry="2.0"/>
</g>
<g fill="#0d5cbd">
<ellipse cx="348.7" cy="347.0" rx="2.08" ry="2.0"/>
<ellipse cx="341.4" cy="328.5" rx="2.08" ry="2.0"/>
</g>
<g fill="#ea3538">
<ellipse cx="327.0" cy="264.3" rx="2.08" ry="2.0"/>
<ellipse cx="356.8" cy="344.1" rx="2.08" ry="2.0"/>
<ellipse cx="319.6" cy="267.1" rx="2.08" ry="2.0"/>
<ellipse cx="349.3" cy="293.6" rx="2.08" ry="2.0"/>
</g>
<g fill="#0d5cbd">
<ellipse cx="348.7" cy="295.5" rx="2.08" ry="2.0"/>
</g>
<g fill="#ea3538">
<ellipse cx="327.0" cy="293.0" rx="2.08" ry="2.0"/>
<ellipse cx="327.0" cy="219.1" rx="2.08" ry="2.0"/>
<ellipse cx="341.9" cy="362.4" rx="2.08" ry="2.0"/>
</g>
<g fill="#0d5cbd">
<ellipse cx="334.0" cy="201.9" rx="2.08" ry="2.0"/>
<ellipse cx="319.4" cy="217.6" rx="2.08" ry="2.0"/>
<ellipse cx="312.1" cy="200.7" rx="2.08" ry="2.0"/>
<ellipse cx="312.1" cy="217.6" rx="2.08" ry="2.0"/>
</g>
<g fill="#ea3538">
<ellipse cx="319.6" cy="392.5" rx="2.08" ry="2.0"/>
</g>
<g fill="#0d5cbd">
<ellipse cx="341.4" cy="205.8" rx="2.08" ry="2.0"/>
<ellipse cx="348.7" cy="366.9" rx="2.08" ry="2.0"/>
<ellipse cx="348.7" cy="308.0" rx="2.08" ry="2.0"/>
<ellipse cx="356.0" cy="192.9" rx="2.08" ry="2.0"/>
<ellipse cx="341.4" cy="217.6" rx="2.08" ry="2.0"/>
<ellipse cx="348.7" cy="292.6" rx="2.08" ry="2.0"/>
<ellipse cx="334.0" cy="420.6" rx="2.08" ry="2.0"/>
<ellipse cx="312.1" cy="295.1" rx="2.08" ry="2.0"/>
<ellipse cx="334.0" cy="448.9" rx="2.08" ry="2.0"/>
</g>
<g fill="#ea3538">
<ellipse cx="327.0" cy="280.8" rx="2.08" ry="2.0"/>
<ellipse cx="341.9" cy="309.2" rx="2.08" ry="2.0"/>
<ellipse cx="327.0" cy="272.8" rx="2.08" ry="2.0"/>
<ellipse cx="356.8" cy="331.3" rx="2.08" ry="2.0"/>
<ellipse cx="349.3" cy="273.1" rx="2.08" ry="2.0"/>
<ellipse cx="327.0" cy="257.3" rx="2.08" ry="2.0"/>
</g>
<g fill="#0d5cbd">
<ellipse cx="348.7" cy="244.8" rx="2.08" ry="2.0"/>
</g>
<g fill="#ea3538">
<ellipse cx="341.9" cy="324.9" rx="2.08" ry="2.0"/>
<ellipse cx="334.5" cy="324.9" rx="2.08" ry="2.0"/>
<ellipse cx="327.0" cy="309.5" rx="2.08" ry="2.0"/>
</g>
<g fill="#0d5cbd">
<ellipse cx="326.7" cy="124.0" rx="2.08" ry="2.0"/>
</g>
<g fill="#ea3538">
<ellipse cx="349.3" cy="279.2" rx="2.08" ry="2.0"/>
</g>
<g fill="#0d5cbd">
<ellipse cx="312.1" cy="305.6" rx="2.08" ry="2.0"/>
<ellipse cx="326.7" cy="376.4" rx="2.08" ry="2.0"/>
</g>
<g fill="#ea3538">
<ellipse cx="341.9" cy="343.4" rx="2.08" ry="2.0"/>
</g>
<g fill="#0d5cbd">
<ellipse cx="326.7" cy="280.1" rx="2.08" ry="2.0"/>
</g>
<g fill="#ea3538">
<ellipse cx="319.6" cy="296.6" rx="2.08" ry="2.0"/>
<ellipse cx="334.5" cy="305.8" rx="2.08" ry="2.0"/>
</g>
<g fill="#0d5cbd">
<ellipse cx="319.4" cy="357.0" rx="2.08" ry="2.0"/>
<ellipse cx="326.7" cy="399.9" rx="2.08" ry="2.0"/>
<ellipse cx="312.1" cy="417.5" rx="2.08" ry="2.0"/>
<ellipse cx="319.4" cy="306.0" rx="2.08" ry="2.0"/>
<ellipse cx="319.4" cy="289.6" rx="2.08" ry="2.0"/>
</g>
<g fill="#ea3538">
<ellipse cx="319.6" cy="269.1" rx="2.08" ry="2.0"/>
<ellipse cx="327.0" cy="293.0" rx="2.08" ry="2.0"/>
</g>
<g fill="#0d5cbd">
<ellipse cx="312.1" cy="189.7" rx="2.08" ry="2.0"/>
<ellipse cx="312.1" cy="259.9" rx="2.08" ry="2.0"/>
</g>
<g fill="#ea3538">
<ellipse cx="312.2" cy="302.4" rx="2.08" ry="2.0"/>
</g>
<g fill="#0d5cbd">
<ellipse cx="312.1" cy="177.2" rx="2.08" ry="2.0"/>
<ellipse cx="341.4" cy="413.8" rx="2.08" ry="2.0"/>
<ellipse cx="334.0" cy="238.4" rx="2.08" ry="2.0"/>
<ellipse cx="312.1" cy="262.1" rx="2.08" ry="2.0"/>
<ellipse cx="319.4" cy="324.9" rx="2.08" ry="2.0"/>
<ellipse cx="334.0" cy="305.4" rx="2.08" ry="2.0"/>
<ellipse cx="341.4" cy="393.3" rx="2.08" ry="2.0"/>
</g>
<g fill="#ea3538">
<ellipse cx="349.3" cy="289.5" rx="2.08" ry="2.0"/>
<ellipse cx="349.3" cy="277.2" rx="2.08" ry="2.0"/>
</g>
<g fill="#0d5cbd">
<ellipse cx="319.4" cy="387.4" rx="2.08" ry="2.0"/>
<ellipse cx="319.4" cy="350.4" rx="2.08" ry="2.0"/>
</g>
<g fill="#ea3538">
<ellipse cx="341.9" cy="310.9" rx="2.08" ry="2.0"/>
</g>
<g fill="#0d5cbd">
<ellipse cx="326.7" cy="369.1" rx="2.08" ry="2.0"/>
<ellipse cx="312.1" cy="352.5" rx="2.08" ry="2.0"/>
<ellipse cx="319.4" cy="269.1" rx="2.08" ry="2.0"/>
</g>
<g fill="#ea3538">
<ellipse cx="319.6" cy="271.0" rx="2.08" ry="2.0"/>
<ellipse cx="341.9" cy="326.0" rx="2.08" ry="2.0"/>
</g>
<g fill="#0d5cbd">
<ellipse cx="319.4" cy="236.7" rx="2.08" ry="2.0"/>
</g>
<g fill="#ea3538">
<ellipse cx="312.2" cy="298.4" rx="2.08" ry="2.0"/>
</g>
<g fill="#0d5cbd">
<ellipse cx="348.7" cy="305.8" rx="2.08" ry="2.0"/>
<ellipse cx="326.7" cy="321.3" rx="2.08" ry="2.0"/>
<ellipse cx="326.7" cy="307.9" rx="2.08" ry="2.0"/>
<ellipse cx="334.0" cy="322.6" rx="2.08" ry="2.0"/>
<ellipse cx="312.1" cy="170.0" rx="2.08" ry="2.0"/>
<ellipse cx="326.7" cy="343.4" rx="2.08" ry="2.0"/>
</g>
<g fill="#ea3538">
<ellipse cx="349.3" cy="329.0" rx="2.08" ry="2.0"/>
</g>
<g fill="#0d5cbd">
<ellipse cx="312.1" cy="322.8" rx="2.08" ry="2.0"/>
</g>
<g fill="#ea3538">
<ellipse cx="349.3" cy="199.5" rx="2.08" ry="2.0"/>
</g>
<g fill="#0d5cbd">
<ellipse cx="326.7" cy="178.2" rx="2.08" ry="2.0"/>
<ellipse cx="312.1" cy="318.6" rx="2.08" ry="2.0"/>
<ellipse cx="326.7" cy="294.1" rx="2.08" ry="2.0"/>
<ellipse cx="319.4" cy="308.1" rx="2.08" ry="2.0"/>
<ellipse cx="326.7" cy="353.3" rx="2.08" ry="2.0"/>
<ellipse cx="312.1" cy="219.8" rx="2.08" ry="2.0"/>
</g>
<g fill="#ea3538">
<ellipse cx="356.8" cy="344.1" rx="2.08" ry="2.0"/>
</g>
<g fill="#0d5cbd">
<ellipse cx="326.7" cy="274.5" rx="2.08" ry="2.0"/>
<ellipse cx="341.4" cy="286.4" rx="2.08" ry="2.0"/>
</g>
<g fill="#ea3538">
<ellipse cx="341.9" cy="262.9" rx="2.08" ry="2.0"/>
</g>
<g fill="#0d5cbd">
<ellipse cx="312.1" cy="362.1" rx="2.08" ry="2.0"/>
<ellipse cx="326.7" cy="99.8" rx="2.08" ry="2.0"/>
<ellipse cx="334.0" cy="288.2" rx="2.08" ry="2.0"/>
<ellipse cx="319.4" cy="448.3" rx="2.08" ry="2.0"/>
<ellipse cx="326.7" cy="218.3" rx="2.08" ry="2.0"/>
<ellipse cx="319.4" cy="301.8" rx="2.08" ry="2.0"/>
<ellipse cx="348.7" cy="301.8" rx="2.08" ry="2.0"/>
</g>
<g fill="#ea3538">
<ellipse cx="356.8" cy="287.4" rx="2.08" ry="2.0"/>
</g>
<g fill="#0d5cbd">
<ellipse cx="319.4" cy="206.6" rx="2.08" ry="2.0"/>
<ellipse cx="356.0" cy="421.0" rx="2.08" ry="2.0"/>
<ellipse cx="341.4" cy="350.3" rx="2.08" ry="2.0"/>
<ellipse cx="319.4" cy="325.0" rx="2.08" ry="2.0"/>
<ellipse cx="312.1" cy="309.8" rx="2.08" ry="2.0"/>
<ellipse cx="312.1" cy="202.9" rx="2.08" ry="2.0"/>
<ellipse cx="319.4" cy="281.6" rx="2.08" ry="2.0"/>
<ellipse cx="334.0" cy="225.7" rx="2.08" ry="2.0"/>
<ellipse cx="341.4" cy="332.3" rx="2.08" ry="2.0"/>
<ellipse cx="312.1" cy="279.7" rx="2.08" ry="2.0"/>
</g>
<g fill="#ea3538">
<ellipse cx="341.9" cy="325.0" rx="2.08" ry="2.0"/>
<ellipse cx="319.6" cy="330.9" rx="2.08" ry="2.0"/>
</g>
<g fill="#0d5cbd">
<ellipse cx="341.4" cy="318.3" rx="2.08" ry="2.0"/>
<ellipse cx="326.7" cy="256.6" rx="2.08" ry="2.0"/>
</g>
<g fill="#ea3538">
<ellipse cx="334.5" cy="315.8" rx="2.08" ry="2.0"/>
</g>
<g fill="#0d5cbd">
<ellipse cx="326.7" cy="85.0" rx="2.08" ry="2.0"/>
</g>
<g fill="#ea3538">
<ellipse cx="341.9" cy="271.6" rx="2.08" ry="2.0"/>
<ellipse cx="349.3" cy="295.7" rx="2.08" ry="2.0"/>
</g>
<g fill="#0d5cbd">
<ellipse cx="334.0" cy="231.5" rx="2.08" ry="2.0"/>
<ellipse cx="312.1" cy="397.0" rx="2.08" ry="2.0"/>
<ellipse cx="334.0" cy="354.7" rx="2.08" ry="2.0"/>
<ellipse cx="334.0" cy="386.4" rx="2.08" ry="2.0"/>
</g>
<g fill="#ea3538">
<ellipse cx="356.8" cy="322.6" rx="2.08" ry="2.0"/>
<ellipse cx="356.8" cy="260.1" rx="2.08" ry="2.0"/>
<ellipse cx="356.8" cy="351.1" rx="2.08" ry="2.0"/>
</g>
<g fill="#0d5cbd">
<ellipse cx="319.4" cy="135.8" rx="2.08" ry="2.0"/>
<ellipse cx="326.7" cy="323.1" rx="2.08" ry="2.0"/>
</g>
<g fill="#ea3538">
<ellipse cx="341.9" cy="256.3" rx="2.08" ry="2.0"/>
<ellipse cx="349.3" cy="283.3" rx="2.08" ry="2.0"/>
</g>
<g fill="#0d5cbd">
<ellipse cx="341.4" cy="326.5" rx="2.08" ry="2.0"/>
<ellipse cx="312.1" cy="277.7" rx="2.08" ry="2.0"/>
</g>
<g fill="#ea3538">
<ellipse cx="341.9" cy="273.8" rx="2.08" ry="2.0"/>
<ellipse cx="312.2" cy="304.4" rx="2.08" ry="2.0"/>
<ellipse cx="319.6" cy="278.9" rx="2.08" ry="2.0"/>
<ellipse cx="356.8" cy="315.8" rx="2.08" ry="2.0"/>
<ellipse cx="356.8" cy="264.8" rx="2.08" ry="2.0"/>
</g>
<g fill="#0d5cbd">
<ellipse cx="334.0" cy="268.0" rx="2.08" ry="2.0"/>
<ellipse cx="341.4" cy="303.0" rx="2.08" ry="2.0"/>
</g>
<g fill="#ea3538">
<ellipse cx="319.6" cy="318.6" rx="2.08" ry="2.0"/>
<ellipse cx="312.2" cy="214.6" rx="2.08" ry="2.0"/>
</g>
<g fill="#0d5cbd">
<ellipse cx="319.4" cy="375.3" rx="2.08" ry="2.0"/>
</g>
<g fill="#ea3538">
<ellipse cx="327.0" cy="320.3" rx="2.08" ry="2.0"/>
<ellipse cx="349.3" cy="281.3" rx="2.08" ry="2.0"/>
<ellipse cx="349.3" cy="262.8" rx="2.08" ry="2.0"/>
</g>
<g fill="#0d5cbd">
<ellipse cx="348.7" cy="285.2" rx="2.08" ry="2.0"/>
</g>
<g fill="#ea3538">
<ellipse cx="312.2" cy="288.9" rx="2.08" ry="2.0"/>
</g>
<g fill="#0d5cbd">
<ellipse cx="356.0" cy="330.9" rx="2.08" ry="2.0"/>
<ellipse cx="326.7" cy="160.5" rx="2.08" ry="2.0"/>
</g>
<g fill="#ea3538">
<ellipse cx="349.3" cy="260.7" rx="2.08" ry="2.0"/>
</g>
<g fill="#0d5cbd">
<ellipse cx="334.0" cy="269.1" rx="2.08" ry="2.0"/>
</g>
<g fill="#ea3538">
<ellipse cx="356.8" cy="298.8" rx="2.08" ry="2.0"/>
</g>
<g fill="#0d5cbd">
<ellipse cx="334.0" cy="275.5" rx="2.08" ry="2.0"/>
<ellipse cx="326.7" cy="198.5" rx="2.08" ry="2.0"/>
<ellipse cx="312.1" cy="320.7" rx="2.08" ry="2.0"/>
</g>
<g fill="#ea3538">
<ellipse cx="327.0" cy="322.6" rx="2.08" ry="2.0"/>
</g>
<g fill="#0d5cbd">
<ellipse cx="319.4" cy="373.1" rx="2.08" ry="2.0"/>
</g>
<g fill="#ea3538">
<ellipse cx="341.9" cy="267.2" rx="2.08" ry="2.0"/>
</g>
<g fill="#0d5cbd">
<ellipse cx="334.0" cy="327.0" rx="2.08" ry="2.0"/>
<ellipse cx="334.0" cy="211.0" rx="2.08" ry="2.0"/>
<ellipse cx="312.1" cy="299.3" rx="2.08" ry="2.0"/>
</g>
<g fill="#ea3538">
<ellipse cx="349.3" cy="324.9" rx="2.08" ry="2.0"/>
</g>
<g fill="#0d5cbd">
<ellipse cx="319.4" cy="407.6" rx="2.08" ry="2.0"/>
</g>
<g fill="#ea3538">
<ellipse cx="349.3" cy="297.7" rx="2.08" ry="2.0"/>
</g>
<g fill="#0d5cbd">
<ellipse cx="319.4" cy="398.4" rx="2.08" ry="2.0"/>
<ellipse cx="319.4" cy="385.6" rx="2.08" ry="2.0"/>
</g>
<g fill="#ea3538">
<ellipse cx="312.2" cy="296.5" rx="2.08" ry="2.0"/>
</g>
<g fill="#0d5cbd">
<ellipse cx="319.4" cy="351.0" rx="2.08" ry="2.0"/>
</g>
<g fill="#ea3538">
<ellipse cx="327.0" cy="271.0" rx="2.08" ry="2.0"/>
<ellipse cx="312.2" cy="306.3" rx="2.08" ry="2.0"/>
</g>
<g fill="#0d5cbd">
<ellipse cx="312.1" cy="326.0" rx="2.08" ry="2.0"/>
</g>
<g fill="#ea3538">
<ellipse cx="319.6" cy="308.1" rx="2.08" ry="2.0"/>
</g>
<g fill="#0d5cbd">
<ellipse cx="319.4" cy="260.3" rx="2.08" ry="2.0"/>
<ellipse cx="312.1" cy="438.0" rx="2.08" ry="2.0"/>
<ellipse cx="334.0" cy="352.5" rx="2.08" ry="2.0"/>
</g>
<g fill="#ea3538">
<ellipse cx="334.5" cy="320.4" rx="2.08" ry="2.0"/>
</g>
<g fill="#0d5cbd">
<ellipse cx="334.0" cy="318.1" rx="2.08" ry="2.0"/>
</g>
<g fill="#ea3538">
<ellipse cx="349.3" cy="315.8" rx="2.08" ry="2.0"/>
<ellipse cx="349.3" cy="285.4" rx="2.08" ry="2.0"/>
</g>
<g fill="#0d5cbd">
<ellipse cx="356.0" cy="321.2" rx="2.08" ry="2.0"/>
</g>
<g fill="#ea3538">
<ellipse cx="334.5" cy="313.6" rx="2.08" ry="2.0"/>
<ellipse cx="341.9" cy="276.0" rx="2.08" ry="2.0"/>
</g>
<g fill="#0d5cbd">
<ellipse cx="319.4" cy="316.5" rx="2.08" ry="2.0"/>
</g>
<g fill="#ea3538">
<ellipse cx="334.5" cy="273.9" rx="2.08" ry="2.0"/>
</g>
<g fill="#0d5cbd">
<ellipse cx="326.7" cy="231.5" rx="2.08" ry="2.0"/>
</g>
<g fill="#ea3538">
<ellipse cx="327.0" cy="324.9" rx="2.08" ry="2.0"/>
</g>
<g fill="#0d5cbd">
<ellipse cx="319.4" cy="181.6" rx="2.08" ry="2.0"/>
<ellipse cx="326.7" cy="123.7" rx="2.08" ry="2.0"/>
<ellipse cx="319.4" cy="155.4" rx="2.08" ry="2.0"/>
<ellipse cx="348.7" cy="318.3" rx="2.08" ry="2.0"/>
</g>
<g fill="#ea3538">
<ellipse cx="349.3" cy="301.8" rx="2.08" ry="2.0"/>
<ellipse cx="349.3" cy="264.8" rx="2.08" ry="2.0"/>
</g>
<g fill="#0d5cbd">
<ellipse cx="341.4" cy="300.5" rx="2.08" ry="2.0"/>
</g>
<g fill="#ea3538">
<ellipse cx="319.6" cy="303.9" rx="2.08" ry="2.0"/>
</g>
<g fill="#0d5cbd">
<ellipse cx="312.1" cy="346.0" rx="2.08" ry="2.0"/>
<ellipse cx="319.4" cy="326.0" rx="2.08" ry="2.0"/>
</g>
<g fill="#ea3538">
<ellipse cx="312.2" cy="330.1" rx="2.08" ry="2.0"/>
<ellipse cx="349.3" cy="327.0" rx="2.08" ry="2.0"/>
<ellipse cx="349.3" cy="238.9" rx="2.08" ry="2.0"/>
<ellipse cx="356.8" cy="257.8" rx="2.08" ry="2.0"/>
</g>
<g fill="#0d5cbd">
<ellipse cx="312.1" cy="230.1" rx="2.08" ry="2.0"/>
<ellipse cx="312.1" cy="387.8" rx="2.08" ry="2.0"/>
</g>
<g fill="#ea3538">
<ellipse cx="334.5" cy="294.5" rx="2.08" ry="2.0"/>
</g>
<g fill="#0d5cbd">
<ellipse cx="356.0" cy="340.4" rx="2.08" ry="2.0"/>
<ellipse cx="348.7" cy="255.9" rx="2.08" ry="2.0"/>
<ellipse cx="319.4" cy="303.9" rx="2.08" ry="2.0"/>
<ellipse cx="326.7" cy="272.8" rx="2.08" ry="2.0"/>
<ellipse cx="319.4" cy="423.0" rx="2.08" ry="2.0"/>
<ellipse cx="348.7" cy="289.5" rx="2.08" ry="2.0"/>
<ellipse cx="312.1" cy="377.9" rx="2.08" ry="2.0"/>
</g>
<g fill="#ea3538">
<ellipse cx="312.2" cy="192.6" rx="2.08" ry="2.0"/>
</g>
<g fill="#0d5cbd">
<ellipse cx="341.4" cy="324.5" rx="2.08" ry="2.0"/>
<ellipse cx="319.4" cy="320.7" rx="2.08" ry="2.0"/>
<ellipse cx="356.0" cy="313.9" rx="2.08" ry="2.0"/>
<ellipse cx="312.1" cy="390.0" rx="2.08" ry="2.0"/>
</g>
<g fill="#ea3538">
<ellipse cx="349.3" cy="268.9" rx="2.08" ry="2.0"/>
</g>
<g fill="#0d5cbd">
<ellipse cx="356.0" cy="403.7" rx="2.08" ry="2.0"/>
<ellipse cx="356.0" cy="325.7" rx="2.08" ry="2.0"/>
</g>
<g fill="#ea3538">
<ellipse cx="327.0" cy="298.8" rx="2.08" ry="2.0"/>
</g>
<g fill="#0d5cbd">
<ellipse cx="312.1" cy="419.9" rx="2.08" ry="2.0"/>
<ellipse cx="312.1" cy="348.1" rx="2.08" ry="2.0"/>
</g>
<g fill="#ea3538">
<ellipse cx="334.5" cy="255.4" rx="2.08" ry="2.0"/>
</g>
<g fill="#0d5cbd">
<ellipse cx="341.4" cy="344.1" rx="2.08" ry="2.0"/>
<ellipse cx="334.0" cy="279.2" rx="2.08" ry="2.0"/>
<ellipse cx="312.1" cy="244.0" rx="2.08" ry="2.0"/>
</g>
<g fill="#ea3538">
<ellipse cx="341.9" cy="300.3" rx="2.08" ry="2.0"/>
</g>
<g fill="#0d5cbd">
<ellipse cx="326.7" cy="268.5" rx="2.08" ry="2.0"/>
</g>
<g fill="#ea3538">
<ellipse cx="341.9" cy="269.4" rx="2.08" ry="2.0"/>
</g>
<g fill="#0d5cbd">
<ellipse cx="326.7" cy="245.5" rx="2.08" ry="2.0"/>
<ellipse cx="348.7" cy="259.0" rx="2.08" ry="2.0"/>
<ellipse cx="341.4" cy="350.3" rx="2.08" ry="2.0"/>
</g>
<g fill="#ea3538">
<ellipse cx="349.3" cy="248.4" rx="2.08" ry="2.0"/>
<ellipse cx="327.0" cy="263.6" rx="2.08" ry="2.0"/>
<ellipse cx="349.3" cy="313.6" rx="2.08" ry="2.0"/>
<ellipse cx="334.5" cy="264.7" rx="2.08" ry="2.0"/>
<ellipse cx="327.0" cy="298.8" rx="2.08" ry="2.0"/>
</g>
<g fill="#0d5cbd">
<ellipse cx="334.0" cy="417.5" rx="2.08" ry="2.0"/>
<ellipse cx="341.4" cy="378.9" rx="2.08" ry="2.0"/>
</g>
<g fill="#ea3538">
<ellipse cx="349.3" cy="336.5" rx="2.08" ry="2.0"/>
<ellipse cx="327.0" cy="330.6" rx="2.08" ry="2.0"/>
<ellipse cx="319.6" cy="316.5" rx="2.08" ry="2.0"/>
<ellipse cx="356.8" cy="333.1" rx="2.08" ry="2.0"/>
<ellipse cx="356.8" cy="276.7" rx="2.08" ry="2.0"/>
</g>
<g fill="#0d5cbd">
<ellipse cx="356.0" cy="255.1" rx="2.08" ry="2.0"/>
</g>
<g fill="#ea3538">
<ellipse cx="341.9" cy="320.9" rx="2.08" ry="2.0"/>
</g>
<g fill="#0d5cbd">
<ellipse cx="348.7" cy="298.8" rx="2.08" ry="2.0"/>
<ellipse cx="319.4" cy="260.3" rx="2.08" ry="2.0"/>
</g>
<g fill="#ea3538">
<ellipse cx="319.6" cy="301.8" rx="2.08" ry="2.0"/>
</g>
<g fill="#0d5cbd">
<ellipse cx="341.4" cy="440.1" rx="2.08" ry="2.0"/>
<ellipse cx="319.4" cy="444.0" rx="2.08" ry="2.0"/>
<ellipse cx="334.0" cy="130.7" rx="2.08" ry="2.0"/>
<ellipse cx="319.4" cy="248.4" rx="2.08" ry="2.0"/>
</g>
<g fill="#ea3538">
<ellipse cx="319.6" cy="265.1" rx="2.08" ry="2.0"/>
<ellipse cx="349.3" cy="266.9" rx="2.08" ry="2.0"/>
<ellipse cx="349.3" cy="271.0" rx="2.08" ry="2.0"/>
<ellipse cx="341.9" cy="227.6" rx="2.08" ry="2.0"/>
</g>
<g fill="#0d5cbd">
<ellipse cx="312.1" cy="325.0" rx="2.08" ry="2.0"/>
</g>
<g fill="#ea3538">
<ellipse cx="356.8" cy="246.2" rx="2.08" ry="2.0"/>
<ellipse cx="319.6" cy="285.2" rx="2.08" ry="2.0"/>
</g>
<g fill="#0d5cbd">
<ellipse cx="312.1" cy="429.8" rx="2.08" ry="2.0"/>
</g>
<g fill="#ea3538">
<ellipse cx="356.8" cy="320.3" rx="2.08" ry="2.0"/>
</g>
<g fill="#0d5cbd">
<ellipse cx="319.4" cy="368.8" rx="2.08" ry="2.0"/>
<ellipse cx="326.7" cy="406.8" rx="2.08" ry="2.0"/>
</g>
<g fill="#ea3538">
<ellipse cx="327.0" cy="274.5" rx="2.08" ry="2.0"/>
</g>
<g fill="#0d5cbd">
<ellipse cx="319.4" cy="251.0" rx="2.08" ry="2.0"/>
</g>
<g fill="#ea3538">
<ellipse cx="319.6" cy="294.5" rx="2.08" ry="2.0"/>
</g>
<g fill="#0d5cbd">
<ellipse cx="348.7" cy="263.0" rx="2.08" ry="2.0"/>
</g>
<g fill="#ea3538">
<ellipse cx="356.8" cy="318.1" rx="2.08" ry="2.0"/>
</g>
<g fill="#0d5cbd">
<ellipse cx="348.7" cy="304.9" rx="2.08" ry="2.0"/>
</g>
<g fill="#ea3538">
<ellipse cx="349.3" cy="287.4" rx="2.08" ry="2.0"/>
<ellipse cx="334.5" cy="342.6" rx="2.08" ry="2.0"/>
<ellipse cx="349.3" cy="322.6" rx="2.08" ry="2.0"/>
</g>
<g fill="#0d5cbd">
<ellipse cx="312.1" cy="392.1" rx="2.08" ry="2.0"/>
</g>
<g fill="#ea3538">
<ellipse cx="319.6" cy="312.3" rx="2.08" ry="2.0"/>
</g>
<g fill="#0d5cbd">
<ellipse cx="312.1" cy="316.5" rx="2.08" ry="2.0"/>
<ellipse cx="334.0" cy="401.6" rx="2.08" ry="2.0"/>
</g>
<g fill="#ea3538">
<ellipse cx="356.8" cy="296.6" rx="2.08" ry="2.0"/>
</g>
<g fill="#0d5cbd">
<ellipse cx="341.4" cy="293.3" rx="2.08" ry="2.0"/>
<ellipse cx="319.4" cy="202.9" rx="2.08" ry="2.0"/>
</g>
<g fill="#ea3538">
<ellipse cx="319.6" cy="314.4" rx="2.08" ry="2.0"/>
</g>
<g fill="#0d5cbd">
<ellipse cx="348.7" cy="266.2" rx="2.08" ry="2.0"/>
</g>
<g fill="#ea3538">
<ellipse cx="341.9" cy="248.4" rx="2.08" ry="2.0"/>
</g>
<g fill="#0d5cbd">
<ellipse cx="341.4" cy="181.6" rx="2.08" ry="2.0"/>
</g>
<g fill="#ea3538">
<ellipse cx="356.8" cy="324.9" rx="2.08" ry="2.0"/>
</g>
<g fill="#0d5cbd">
<ellipse cx="334.0" cy="315.8" rx="2.08" ry="2.0"/>
</g>
<g fill="#ea3538">
<ellipse cx="349.3" cy="291.6" rx="2.08" ry="2.0"/>
</g>
<g fill="#0d5cbd">
<ellipse cx="312.1" cy="257.8" rx="2.08" ry="2.0"/>
</g>
<g fill="#ea3538">
<ellipse cx="341.9" cy="312.7" rx="2.08" ry="2.0"/>
</g>
<g fill="#0d5cbd">
<ellipse cx="319.4" cy="318.6" rx="2.08" ry="2.0"/>
<ellipse cx="312.1" cy="225.7" rx="2.08" ry="2.0"/>
</g>
<g fill="#ea3538">
<ellipse cx="349.3" cy="325.0" rx="2.08" ry="2.0"/>
</g>
<g fill="#0d5cbd">
<ellipse cx="319.4" cy="219.1" rx="2.08" ry="2.0"/>
<ellipse cx="334.0" cy="387.7" rx="2.08" ry="2.0"/>
</g>
<g fill="#ea3538">
<ellipse cx="327.0" cy="243.3" rx="2.08" ry="2.0"/>
</g>
<g fill="#0d5cbd">
<ellipse cx="326.7" cy="271.0" rx="2.08" ry="2.0"/>
</g>
<g fill="#ea3538">
<ellipse cx="349.3" cy="299.8" rx="2.08" ry="2.0"/>
</g>
<g fill="#0d5cbd">
<ellipse cx="334.0" cy="271.8" rx="2.08" ry="2.0"/>
</g>
<g fill="#ea3538">
<ellipse cx="312.2" cy="294.5" rx="2.08" ry="2.0"/>
<ellipse cx="319.6" cy="273.0" rx="2.08" ry="2.0"/>
<ellipse cx="319.6" cy="277.0" rx="2.08" ry="2.0"/>
</g>
<g fill="#0d5cbd">
<ellipse cx="312.1" cy="275.7" rx="2.08" ry="2.0"/>
</g>
<g fill="#ea3538">
<ellipse cx="356.8" cy="244.0" rx="2.08" ry="2.0"/>
</g>
<g fill="#0d5cbd">
<ellipse cx="326.7" cy="324.9" rx="2.08" ry="2.0"/>
</g>
<g fill="#ea3538">
<ellipse cx="334.5" cy="318.1" rx="2.08" ry="2.0"/>
</g>
<g fill="#0d5cbd">
<ellipse cx="341.4" cy="280.8" rx="2.08" ry="2.0"/>
<ellipse cx="326.7" cy="312.7" rx="2.08" ry="2.0"/>
<ellipse cx="326.7" cy="327.2" rx="2.08" ry="2.0"/>
<ellipse cx="341.4" cy="289.2" rx="2.08" ry="2.0"/>
<ellipse cx="348.7" cy="267.0" rx="2.08" ry="2.0"/>
<ellipse cx="319.4" cy="425.7" rx="2.08" ry="2.0"/>
<ellipse cx="319.4" cy="322.8" rx="2.08" ry="2.0"/>
</g>
<g fill="#ea3538">
<ellipse cx="312.2" cy="300.4" rx="2.08" ry="2.0"/>
</g>
<g fill="#0d5cbd">
<ellipse cx="334.0" cy="303.3" rx="2.08" ry="2.0"/>
<ellipse cx="312.1" cy="350.3" rx="2.08" ry="2.0"/>
<ellipse cx="348.7" cy="380.1" rx="2.08" ry="2.0"/>
<ellipse cx="312.1" cy="297.2" rx="2.08" ry="2.0"/>
</g>
<g fill="#ea3538">
<ellipse cx="319.6" cy="320.7" rx="2.08" ry="2.0"/>
<ellipse cx="334.5" cy="283.5" rx="2.08" ry="2.0"/>
<ellipse cx="319.6" cy="341.9" rx="2.08" ry="2.0"/>
</g>
<g fill="#0d5cbd">
<ellipse cx="312.1" cy="240.3" rx="2.08" ry="2.0"/>
</g>
<g fill="#ea3538">
<ellipse cx="319.6" cy="324.9" rx="2.08" ry="2.0"/>
<ellipse cx="341.9" cy="298.1" rx="2.08" ry="2.0"/>
</g>
<g fill="#0d5cbd">
<ellipse cx="341.4" cy="378.3" rx="2.08" ry="2.0"/>
<ellipse cx="326.7" cy="310.3" rx="2.08" ry="2.0"/>
<ellipse cx="334.0" cy="277.2" rx="2.08" ry="2.0"/>
<ellipse cx="326.7" cy="193.4" rx="2.08" ry="2.0"/>
<ellipse cx="356.0" cy="179.7" rx="2.08" ry="2.0"/>
<ellipse cx="348.7" cy="359.5" rx="2.08" ry="2.0"/>
</g>
<g fill="#ea3538">
<ellipse cx="341.9" cy="296.0" rx="2.08" ry="2.0"/>
<ellipse cx="341.9" cy="302.4" rx="2.08" ry="2.0"/>
</g>
<g fill="#0d5cbd">
<ellipse cx="319.4" cy="314.4" rx="2.08" ry="2.0"/>
<ellipse cx="348.7" cy="215.8" rx="2.08" ry="2.0"/>
<ellipse cx="326.7" cy="274.5" rx="2.08" ry="2.0"/>
<ellipse cx="319.4" cy="233.7" rx="2.08" ry="2.0"/>
<ellipse cx="334.0" cy="397.7" rx="2.08" ry="2.0"/>
<ellipse cx="334.0" cy="283.0" rx="2.08" ry="2.0"/>
<ellipse cx="312.1" cy="324.9" rx="2.08" ry="2.0"/>
<ellipse cx="326.7" cy="271.5" rx="2.08" ry="2.0"/>
<ellipse cx="319.4" cy="177.9" rx="2.08" ry="2.0"/>
</g>
<g fill="#0fc05f">
<ellipse cx="136.7" cy="281.7" rx="2.08" ry="2.0"/>
<ellipse cx="157.7" cy="285.2" rx="2.08" ry="2.0"/>
<ellipse cx="157.7" cy="289.9" rx="2.08" ry="2.0"/>
<ellipse cx="157.7" cy="294.4" rx="2.08" ry="2.0"/>
<ellipse cx="178.7" cy="281.7" rx="2.08" ry="2.0"/>
<ellipse cx="178.7" cy="283.2" rx="2.08" ry="2.0"/>
<ellipse cx="178.7" cy="284.8" rx="2.08" ry="2.0"/>
<ellipse cx="178.7" cy="286.3" rx="2.08" ry="2.0"/>
<ellipse cx="178.7" cy="287.9" rx="2.08" ry="2.0"/>
<ellipse cx="178.7" cy="289.4" rx="2.08" ry="2.0"/>
<ellipse cx="178.7" cy="290.9" rx="2.08" ry="2.0"/>
<ellipse cx="178.7" cy="292.5" rx="2.08" ry="2.0"/>
<ellipse cx="178.7" cy="294.0" rx="2.08" ry="2.0"/>
<ellipse cx="178.7" cy="295.6" rx="2.08" ry="2.0"/>
<ellipse cx="178.7" cy="297.1" rx="2.08" ry="2.0"/>
<ellipse cx="178.7" cy="302.6" rx="2.08" ry="2.0"/>
<ellipse cx="199.7" cy="282.1" rx="2.08" ry="2.0"/>
<ellipse cx="199.7" cy="287.8" rx="2.08" ry="2.0"/>
<ellipse cx="199.7" cy="289.3" rx="2.08" ry="2.0"/>
<ellipse cx="199.7" cy="290.8" rx="2.08" ry="2.0"/>
<ellipse cx="199.7" cy="292.3" rx="2.08" ry="2.0"/>
<ellipse cx="199.7" cy="293.8" rx="2.08" ry="2.0"/>
<ellipse cx="199.7" cy="295.3" rx="2.08" ry="2.0"/>
<ellipse cx="199.7" cy="296.8" rx="2.08" ry="2.0"/>
<ellipse cx="199.7" cy="298.3" rx="2.08" ry="2.0"/>
<ellipse cx="199.7" cy="299.8" rx="2.08" ry="2.0"/>
<ellipse cx="199.7" cy="301.3" rx="2.08" ry="2.0"/>
<ellipse cx="199.7" cy="302.8" rx="2.08" ry="2.0"/>
<ellipse cx="199.7" cy="304.3" rx="2.08" ry="2.0"/>
<ellipse cx="220.7" cy="288.9" rx="2.08" ry="2.0"/>
<ellipse cx="220.7" cy="290.4" rx="2.08" ry="2.0"/>
<ellipse cx="220.7" cy="292.0" rx="2.08" ry="2.0"/>
<ellipse cx="220.7" cy="293.5" rx="2.08" ry="2.0"/>
<ellipse cx="220.7" cy="295.0" rx="2.08" ry="2.0"/>
<ellipse cx="220.7" cy="296.6" rx="2.08" ry="2.0"/>
<ellipse cx="220.7" cy="298.1" rx="2.08" ry="2.0"/>
<ellipse cx="220.7" cy="299.6" rx="2.08" ry="2.0"/>
<ellipse cx="220.7" cy="301.1" rx="2.08" ry="2.0"/>
<ellipse cx="220.7" cy="302.7" rx="2.08" ry="2.0"/>
<ellipse cx="220.7" cy="304.2" rx="2.08" ry="2.0"/>
<ellipse cx="220.7" cy="305.7" rx="2.08" ry="2.0"/>
<ellipse cx="220.7" cy="307.3" rx="2.08" ry="2.0"/>
<ellipse cx="220.7" cy="308.8" rx="2.08" ry="2.0"/>
<ellipse cx="241.7" cy="290.0" rx="2.08" ry="2.0"/>
<ellipse cx="241.7" cy="291.5" rx="2.08" ry="2.0"/>
<ellipse cx="241.7" cy="293.0" rx="2.08" ry="2.0"/>
<ellipse cx="241.7" cy="294.4" rx="2.08" ry="2.0"/>
<ellipse cx="241.7" cy="295.9" rx="2.08" ry="2.0"/>
<ellipse cx="241.7" cy="297.4" rx="2.08" ry="2.0"/>
<ellipse cx="241.7" cy="298.9" rx="2.08" ry="2.0"/>
<ellipse cx="241.7" cy="300.4" rx="2.08" ry="2.0"/>
<ellipse cx="241.7" cy="301.9" rx="2.08" ry="2.0"/>
<ellipse cx="241.7" cy="303.3" rx="2.08" ry="2.0"/>
<ellipse cx="241.7" cy="304.8" rx="2.08" ry="2.0"/>
<ellipse cx="241.7" cy="306.3" rx="2.08" ry="2.0"/>
<ellipse cx="241.7" cy="307.8" rx="2.08" ry="2.0"/>
<ellipse cx="241.7" cy="309.3" rx="2.08" ry="2.0"/>
<ellipse cx="241.7" cy="310.8" rx="2.08" ry="2.0"/>
<ellipse cx="241.7" cy="312.2" rx="2.08" ry="2.0"/>
<ellipse cx="241.7" cy="313.7" rx="2.08" ry="2.0"/>
<ellipse cx="241.7" cy="315.2" rx="2.08" ry="2.0"/>
<ellipse cx="262.7" cy="292.0" rx="2.08" ry="2.0"/>
<ellipse cx="262.7" cy="293.5" rx="2.08" ry="2.0"/>
<ellipse cx="262.7" cy="294.9" rx="2.08" ry="2.0"/>
<ellipse cx="262.7" cy="296.4" rx="2.08" ry="2.0"/>
<ellipse cx="262.7" cy="297.9" rx="2.08" ry="2.0"/>
<ellipse cx="262.7" cy="299.4" rx="2.08" ry="2.0"/>
<ellipse cx="262.7" cy="300.9" rx="2.08" ry="2.0"/>
<ellipse cx="262.7" cy="302.3" rx="2.08" ry="2.0"/>
<ellipse cx="262.7" cy="303.8" rx="2.08" ry="2.0"/>
<ellipse cx="262.7" cy="305.3" rx="2.08" ry="2.0"/>
<ellipse cx="262.7" cy="306.8" rx="2.08" ry="2.0"/>
<ellipse cx="262.7" cy="308.2" rx="2.08" ry="2.0"/>
<ellipse cx="262.7" cy="309.7" rx="2.08" ry="2.0"/>
<ellipse cx="262.7" cy="311.2" rx="2.08" ry="2.0"/>
<ellipse cx="262.7" cy="312.6" rx="2.08" ry="2.0"/>
<ellipse cx="262.7" cy="314.1" rx="2.08" ry="2.0"/>
<ellipse cx="262.7" cy="315.6" rx="2.08" ry="2.0"/>
<ellipse cx="262.7" cy="317.1" rx="2.08" ry="2.0"/>
<ellipse cx="262.7" cy="318.6" rx="2.08" ry="2.0"/>
<ellipse cx="262.7" cy="320.0" rx="2.08" ry="2.0"/>
<ellipse cx="262.7" cy="321.5" rx="2.08" ry="2.0"/>
<ellipse cx="283.7" cy="299.5" rx="2.08" ry="2.0"/>
<ellipse cx="283.7" cy="301.0" rx="2.08" ry="2.0"/>
<ellipse cx="283.7" cy="302.4" rx="2.08" ry="2.0"/>
<ellipse cx="283.7" cy="303.9" rx="2.08" ry="2.0"/>
<ellipse cx="283.7" cy="305.4" rx="2.08" ry="2.0"/>
<ellipse cx="283.7" cy="306.8" rx="2.08" ry="2.0"/>
<ellipse cx="283.7" cy="308.3" rx="2.08" ry="2.0"/>
<ellipse cx="283.7" cy="309.8" rx="2.08" ry="2.0"/>
<ellipse cx="283.7" cy="311.2" rx="2.08" ry="2.0"/>
<ellipse cx="283.7" cy="312.7" rx="2.08" ry="2.0"/>
<ellipse cx="283.7" cy="314.2" rx="2.08" ry="2.0"/>
<ellipse cx="283.7" cy="315.6" rx="2.08" ry="2.0"/>
<ellipse cx="283.7" cy="317.1" rx="2.08" ry="2.0"/>
<ellipse cx="283.7" cy="318.6" rx="2.08" ry="2.0"/>
<ellipse cx="283.7" cy="320.0" rx="2.08" ry="2.0"/>
<ellipse cx="283.7" cy="321.5" rx="2.08" ry="2.0"/>
<ellipse cx="304.8" cy="310.3" rx="2.08" ry="2.0"/>
<ellipse cx="304.8" cy="311.8" rx="2.08" ry="2.0"/>
<ellipse cx="304.8" cy="313.3" rx="2.08" ry="2.0"/>
<ellipse cx="304.8" cy="314.8" rx="2.08" ry="2.0"/>
<ellipse cx="304.8" cy="316.3" rx="2.08" ry="2.0"/>
<ellipse cx="304.8" cy="317.8" rx="2.08" ry="2.0"/>
<ellipse cx="304.8" cy="319.3" rx="2.08" ry="2.0"/>
<ellipse cx="304.8" cy="320.8" rx="2.08" ry="2.0"/>
<ellipse cx="304.8" cy="322.3" rx="2.08" ry="2.0"/>
<ellipse cx="304.8" cy="323.8" rx="2.08" ry="2.0"/>
<ellipse cx="304.8" cy="325.3" rx="2.08" ry="2.0"/>
<ellipse cx="304.8" cy="326.8" rx="2.08" ry="2.0"/>
</g>
<line x1="38.85" x2="570.6" y1="248.5" y2="248.5" stroke="#262626" stroke-width="1" stroke-dasharray="3.3,2.8" stroke-dashoffset="1.0"/>
<line y1="17.4" y2="478.6" x1="304.5" x2="304.5" stroke="#262626" stroke-width="1" stroke-dasharray="3.3,2.8" stroke-dashoffset="4.1"/>
<rect x="38.85" y="17.4" width="531.75" height="461.20" fill="none" stroke="#555" stroke-width="1.2"/>
<line x1="111.50" x2="111.50" y1="478.6" y2="481.90000000000003" stroke="#555" stroke-width="1.1"/>
<text transform="translate(110.30,491.60) scale(0.93,1)" font-size="9.7" fill="#4d4d4d" text-anchor="middle">-0.2</text>
<line x1="208.50" x2="208.50" y1="478.6" y2="481.90000000000003" stroke="#555" stroke-width="1.1"/>
<text transform="translate(207.30,491.60) scale(0.93,1)" font-size="9.7" fill="#4d4d4d" text-anchor="middle">-0.1</text>
<line x1="304.60" x2="304.60" y1="478.6" y2="481.90000000000003" stroke="#555" stroke-width="1.1"/>
<text transform="translate(303.40,491.60) scale(0.93,1)" font-size="9.7" fill="#4d4d4d" text-anchor="middle">0.0</text>
<line x1="401.30" x2="401.30" y1="478.6" y2="481.90000000000003" stroke="#555" stroke-width="1.1"/>
<text transform="translate(400.10,491.60) scale(0.93,1)" font-size="9.7" fill="#4d4d4d" text-anchor="middle">0.1</text>
<line x1="498.00" x2="498.00" y1="478.6" y2="481.90000000000003" stroke="#555" stroke-width="1.1"/>
<text transform="translate(496.80,491.60) scale(0.93,1)" font-size="9.7" fill="#4d4d4d" text-anchor="middle">0.2</text>
<line y1="364.60" y2="364.60" x1="35.550000000000004" x2="38.85" stroke="#555" stroke-width="1.1"/>
<text transform="translate(32.45,368.30) scale(0.99,1)" font-size="9.6" fill="#4d4d4d" text-anchor="end">-500</text>
<line y1="248.50" y2="248.50" x1="35.550000000000004" x2="38.85" stroke="#555" stroke-width="1.1"/>
<text transform="translate(32.45,252.20) scale(0.99,1)" font-size="9.6" fill="#4d4d4d" text-anchor="end">0</text>
<line y1="131.50" y2="131.50" x1="35.550000000000004" x2="38.85" stroke="#555" stroke-width="1.1"/>
<text transform="translate(32.45,135.20) scale(0.99,1)" font-size="9.6" fill="#4d4d4d" text-anchor="end">500</text>
<text transform="translate(38.85,10.20) scale(1.052,1)" font-size="13.35" fill="#000" text-anchor="start">Cost-effectiveness plan</text>
<text transform="translate(304.03,508.00) scale(1.052,1)" font-size="11" fill="#000" text-anchor="middle">Delta Effectiveness (Diagnostic accuracy)</text>
<text transform="translate(9.90,247.00) scale(1.052,1) rotate(-90)" font-size="11.15" fill="#000" text-anchor="middle">Delta Cost (€)</text>
<text transform="translate(587.60,224.70) scale(1.052,1)" font-size="10.8" fill="#000" text-anchor="start">sub-group</text>
<ellipse cx="596.4" cy="239.9" rx="2.08" ry="2.0" fill="#ea3538"/>
<text transform="translate(610.80,243.60) scale(1.052,1)" font-size="9.05" fill="#000" text-anchor="start">High PTP</text>
<ellipse cx="596.4" cy="256.9" rx="2.08" ry="2.0" fill="#0d5cbd"/>
<text transform="translate(610.80,260.60) scale(1.052,1)" font-size="9.05" fill="#000" text-anchor="start">Intermediate PTP</text>
<ellipse cx="596.4" cy="273.9" rx="2.08" ry="2.0" fill="#0fc05f"/>
<text transform="translate(610.80,277.60) scale(1.052,1)" font-size="9.05" fill="#000" text-anchor="start">Low PTP</text>
</svg></body></html>
